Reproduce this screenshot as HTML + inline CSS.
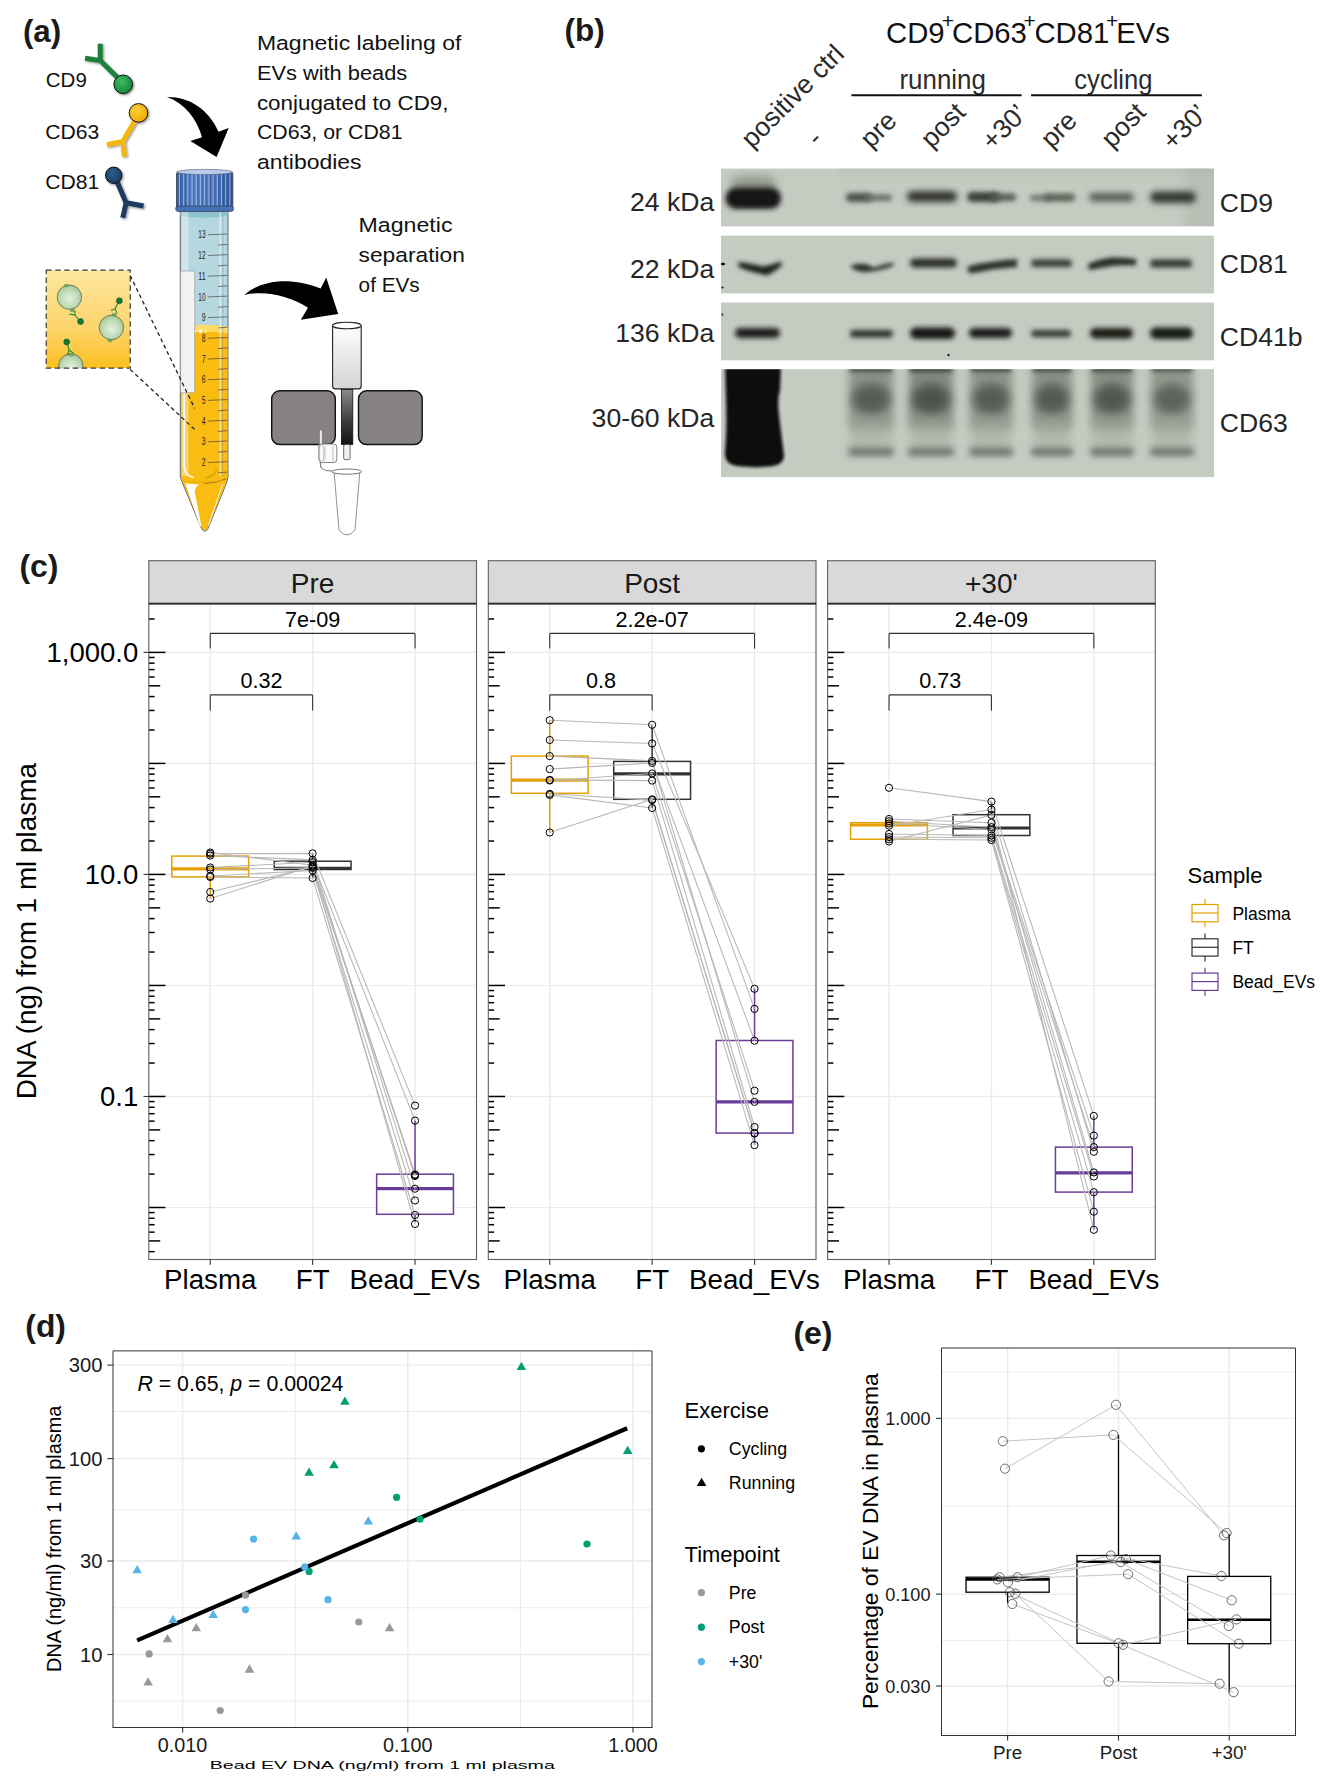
<!DOCTYPE html>
<html><head><meta charset="utf-8"><style>
html,body{margin:0;padding:0;background:#fff;}
svg{display:block;font-family:"Liberation Sans", sans-serif;}
</style></head><body>
<svg width="1328" height="1792" viewBox="0 0 1328 1792">
<rect width="1328" height="1792" fill="#fff"/>
<text x="22.90" y="41.60" font-size="31.3" text-anchor="start" fill="#1a1a1a" font-weight="bold" >(a)</text>
<defs>
<filter id="dsh" x="-30%" y="-30%" width="160%" height="160%"><feDropShadow dx="1.2" dy="1.2" stdDeviation="0.9" flood-color="#000" flood-opacity="0.45"/></filter>
<radialGradient id="gG" cx="0.4" cy="0.35" r="0.7"><stop offset="0" stop-color="#3dba5e"/><stop offset="1" stop-color="#14843a"/></radialGradient>
<radialGradient id="gY" cx="0.4" cy="0.35" r="0.7"><stop offset="0" stop-color="#fcd03a"/><stop offset="1" stop-color="#f0aa00"/></radialGradient>
<radialGradient id="gN" cx="0.4" cy="0.35" r="0.7"><stop offset="0" stop-color="#2c5d8c"/><stop offset="1" stop-color="#173a60"/></radialGradient>
<radialGradient id="gEV" cx="0.5" cy="0.55" r="0.6"><stop offset="0" stop-color="#e6f1e0"/><stop offset="0.55" stop-color="#c2dcb8"/><stop offset="0.85" stop-color="#a9cb9d"/><stop offset="1" stop-color="#6f8f68"/></radialGradient>
<linearGradient id="gInset" x1="0" y1="0" x2="0" y2="1"><stop offset="0" stop-color="#fde6a0"/><stop offset="0.6" stop-color="#fdd46a"/><stop offset="1" stop-color="#fbbf1e"/></linearGradient>
<linearGradient id="gCap" x1="0" y1="0" x2="1" y2="0"><stop offset="0" stop-color="#3a62a8"/><stop offset="0.3" stop-color="#5a86cc"/><stop offset="0.7" stop-color="#4a76bf"/><stop offset="1" stop-color="#2f5799"/></linearGradient>
<linearGradient id="gCol" x1="0" y1="0" x2="0" y2="1"><stop offset="0" stop-color="#ffffff"/><stop offset="1" stop-color="#d4d4d4"/></linearGradient>
<linearGradient id="gStem" x1="0" y1="0" x2="0" y2="1"><stop offset="0" stop-color="#8a8a8a"/><stop offset="0.6" stop-color="#3a3a3a"/><stop offset="1" stop-color="#111"/></linearGradient>
<pattern id="pMag" width="3" height="3" patternUnits="userSpaceOnUse"><rect width="3" height="3" fill="#8f8b8b"/><rect width="1.5" height="1.5" fill="#7d7979"/><rect x="1.5" y="1.5" width="1.5" height="1.5" fill="#7d7979"/></pattern>
<linearGradient id="gCone" x1="0" y1="0" x2="1" y2="0"><stop offset="0" stop-color="#f7b500"/><stop offset="0.35" stop-color="#fbd65a"/><stop offset="0.7" stop-color="#f9c21c"/><stop offset="1" stop-color="#f2b000"/></linearGradient>
<clipPath id="cInset"><rect x="46.25" y="270.2" width="84" height="98"/></clipPath>
</defs>
<text x="45.8" y="87.0" font-size="20" textLength="41" lengthAdjust="spacingAndGlyphs" fill="#111">CD9</text>
<text x="45.2" y="138.9" font-size="20" textLength="54" lengthAdjust="spacingAndGlyphs" fill="#111">CD63</text>
<text x="45.2" y="189.4" font-size="20" textLength="54" lengthAdjust="spacingAndGlyphs" fill="#111">CD81</text>
<g filter="url(#dsh)">
<polyline points="100.2,43.7 100.2,60.5" fill="none" stroke="#1b7f3a" stroke-width="5" stroke-linejoin="miter" stroke-linecap="butt"/>
<polyline points="85.1,58.2 100.2,60.5 119,79" fill="none" stroke="#1b7f3a" stroke-width="5" stroke-linejoin="miter" stroke-linecap="butt"/>
<circle cx="123.2" cy="84.3" r="9.3" fill="url(#gG)" stroke="#111" stroke-width="1"/>
</g>
<g filter="url(#dsh)">
<polyline points="134.4,121.5 122.8,141.4 107,144.7" fill="none" stroke="#f5b50e" stroke-width="5" stroke-linejoin="miter" stroke-linecap="butt"/>
<polyline points="122.8,141.4 124.4,156.5" fill="none" stroke="#f5b50e" stroke-width="5" stroke-linejoin="miter" stroke-linecap="butt"/>
<circle cx="138.5" cy="112.9" r="9.3" fill="url(#gY)" stroke="#111" stroke-width="1"/>
</g>
<g filter="url(#dsh)">
<polyline points="117.0,181.5 126.1,202.7 143.5,206" fill="none" stroke="#1c3a5e" stroke-width="5" stroke-linejoin="miter" stroke-linecap="butt"/>
<polyline points="126.1,202.7 122.8,217.8" fill="none" stroke="#1c3a5e" stroke-width="5" stroke-linejoin="miter" stroke-linecap="butt"/>
<circle cx="113.7" cy="175.3" r="8.2" fill="url(#gN)" stroke="#111" stroke-width="1"/>
</g>
<path d="M167,97 C188,96.5 208,108 218.5,131.8 L228.7,127.9 L216.6,156.9 L190.3,141.1 L202,137.3 C197,119 185,103.5 167,97 Z" fill="#000"/>
<text x="256.9" y="50.2" font-size="20.5" textLength="204.6" lengthAdjust="spacingAndGlyphs" fill="#111">Magnetic labeling of</text>
<text x="256.9" y="79.7" font-size="20.5" textLength="150.3" lengthAdjust="spacingAndGlyphs" fill="#111">EVs with beads</text>
<text x="256.9" y="109.5" font-size="20.5" textLength="191.6" lengthAdjust="spacingAndGlyphs" fill="#111">conjugated to CD9,</text>
<text x="256.9" y="139.3" font-size="20.5" textLength="145.6" lengthAdjust="spacingAndGlyphs" fill="#111">CD63, or CD81</text>
<text x="256.9" y="169.1" font-size="20.5" textLength="104.6" lengthAdjust="spacingAndGlyphs" fill="#111">antibodies</text>
<text x="358.6" y="231.5" font-size="20.5" textLength="93.9" lengthAdjust="spacingAndGlyphs" fill="#111">Magnetic</text>
<text x="358.6" y="261.7" font-size="20.5" textLength="106.2" lengthAdjust="spacingAndGlyphs" fill="#111">separation</text>
<text x="358.6" y="291.5" font-size="20.5" textLength="61.1" lengthAdjust="spacingAndGlyphs" fill="#111">of EVs</text>
<path d="M180.3,211 L228,211 L228,477 L226.5,483 L208,528.5 Q204.8,534 201.5,528.5 L182.5,483 L180.3,477 Z" fill="#b5d7df" stroke="#555" stroke-width="0.9"/>
<path d="M181,326.4 Q204,323.5 227.4,326.4 L227.4,477 L226,483 L207.6,528 Q204.8,532.8 202,528 L183,483 L181,477 Z" fill="#f9bd12"/>
<path d="M185.3,483.5 L199,484.5 Q195,487 194.8,492 L201.5,527 L200,526 Z" fill="#ffffff"/>
<path d="M222.5,484.5 L208.5,525.5" fill="none" stroke="#ffffff" stroke-width="1" opacity="0.9"/>
<path d="M204.5,483.5 Q216,483 226,479" fill="none" stroke="#6b5a20" stroke-width="0.8"/>
<path d="M182,481 Q205,484 226.5,480" fill="none" stroke="#e8ac00" stroke-width="1.2" opacity="0.8"/>
<path d="M181,326.4 Q204,323 227.4,326.4 L227.4,333 Q204,330 181,333 Z" fill="#fddc6a"/>
<circle cx="200.50" cy="331.30" r="1.8" fill="#fff" stroke="none" stroke-width="1" />
<circle cx="195.50" cy="331.50" r="0.9" fill="#fff" stroke="none" stroke-width="1" />
<circle cx="205.50" cy="331.50" r="0.9" fill="#fff" stroke="none" stroke-width="1" />
<circle cx="198.00" cy="330.50" r="0.6" fill="#fff" stroke="none" stroke-width="1" />
<path d="M180.6,211.5 L227.6,211.5 L227.6,216 Q204,219.5 180.6,216 Z" fill="#8cc3cf"/>
<rect x="181.5" y="212" width="7" height="264" fill="#ffffff" opacity="0.35"/>
<line x1="220.20" y1="212.00" x2="220.20" y2="476.00" stroke="#ffffff" stroke-width="1.0" opacity="0.8"/>
<line x1="223.00" y1="212.00" x2="223.00" y2="476.00" stroke="#7fa9b3" stroke-width="0.7" opacity="0.7"/>
<path d="M184.2,333 L184.2,466 Q184.5,476 194,477.5" fill="none" stroke="#fff" stroke-width="1.6" opacity="0.95"/>
<path d="M216.5,470 Q215,476.5 206,477.8" fill="none" stroke="#c48a00" stroke-width="1.4" opacity="0.6"/>
<path d="M180.6,271 L193,271 Q194.7,271 194.7,273 L194.7,391 Q194.7,392.8 193,392.8 L180.6,392.8 Z" fill="#f3f3f3" stroke="#9a9a9a" stroke-width="0.7"/>
<text x="205.5" y="238.4" font-size="10" text-anchor="end" fill="#222" textLength="7.2" lengthAdjust="spacingAndGlyphs">13</text>
<line x1="207.80" y1="234.80" x2="227.50" y2="234.00" stroke="#333" stroke-width="0.6" />
<line x1="218.00" y1="245.15" x2="227.50" y2="244.40" stroke="#333" stroke-width="0.6" />
<text x="205.5" y="259.1" font-size="10" text-anchor="end" fill="#222" textLength="7.2" lengthAdjust="spacingAndGlyphs">12</text>
<line x1="207.80" y1="255.50" x2="227.50" y2="254.70" stroke="#333" stroke-width="0.6" />
<line x1="218.00" y1="265.85" x2="227.50" y2="265.10" stroke="#333" stroke-width="0.6" />
<text x="205.5" y="279.8" font-size="10" text-anchor="end" fill="#222" textLength="7.2" lengthAdjust="spacingAndGlyphs">11</text>
<line x1="207.80" y1="276.20" x2="227.50" y2="275.40" stroke="#333" stroke-width="0.6" />
<line x1="218.00" y1="286.55" x2="227.50" y2="285.80" stroke="#333" stroke-width="0.6" />
<text x="205.5" y="300.5" font-size="10" text-anchor="end" fill="#222" textLength="7.2" lengthAdjust="spacingAndGlyphs">10</text>
<line x1="207.80" y1="296.90" x2="227.50" y2="296.10" stroke="#333" stroke-width="0.6" />
<line x1="218.00" y1="307.25" x2="227.50" y2="306.50" stroke="#333" stroke-width="0.6" />
<text x="205.5" y="321.2" font-size="10" text-anchor="end" fill="#222" textLength="3.8" lengthAdjust="spacingAndGlyphs">9</text>
<line x1="207.80" y1="317.60" x2="227.50" y2="316.80" stroke="#333" stroke-width="0.6" />
<line x1="218.00" y1="327.95" x2="227.50" y2="327.20" stroke="#333" stroke-width="0.6" />
<text x="205.5" y="341.9" font-size="10" text-anchor="end" fill="#222" textLength="3.8" lengthAdjust="spacingAndGlyphs">8</text>
<line x1="207.80" y1="338.30" x2="227.50" y2="337.50" stroke="#333" stroke-width="0.6" />
<line x1="218.00" y1="348.65" x2="227.50" y2="347.90" stroke="#333" stroke-width="0.6" />
<text x="205.5" y="362.6" font-size="10" text-anchor="end" fill="#222" textLength="3.8" lengthAdjust="spacingAndGlyphs">7</text>
<line x1="207.80" y1="359.00" x2="227.50" y2="358.20" stroke="#333" stroke-width="0.6" />
<line x1="218.00" y1="369.35" x2="227.50" y2="368.60" stroke="#333" stroke-width="0.6" />
<text x="205.5" y="383.3" font-size="10" text-anchor="end" fill="#222" textLength="3.8" lengthAdjust="spacingAndGlyphs">6</text>
<line x1="207.80" y1="379.70" x2="227.50" y2="378.90" stroke="#333" stroke-width="0.6" />
<line x1="218.00" y1="390.05" x2="227.50" y2="389.30" stroke="#333" stroke-width="0.6" />
<text x="205.5" y="404.0" font-size="10" text-anchor="end" fill="#222" textLength="3.8" lengthAdjust="spacingAndGlyphs">5</text>
<line x1="207.80" y1="400.40" x2="227.50" y2="399.60" stroke="#333" stroke-width="0.6" />
<line x1="218.00" y1="410.75" x2="227.50" y2="410.00" stroke="#333" stroke-width="0.6" />
<text x="205.5" y="424.7" font-size="10" text-anchor="end" fill="#222" textLength="3.8" lengthAdjust="spacingAndGlyphs">4</text>
<line x1="207.80" y1="421.10" x2="227.50" y2="420.30" stroke="#333" stroke-width="0.6" />
<line x1="218.00" y1="431.45" x2="227.50" y2="430.70" stroke="#333" stroke-width="0.6" />
<text x="205.5" y="445.4" font-size="10" text-anchor="end" fill="#222" textLength="3.8" lengthAdjust="spacingAndGlyphs">3</text>
<line x1="207.80" y1="441.80" x2="227.50" y2="441.00" stroke="#333" stroke-width="0.6" />
<line x1="218.00" y1="452.15" x2="227.50" y2="451.40" stroke="#333" stroke-width="0.6" />
<text x="205.5" y="466.1" font-size="10" text-anchor="end" fill="#222" textLength="3.8" lengthAdjust="spacingAndGlyphs">2</text>
<line x1="207.80" y1="462.50" x2="227.50" y2="461.70" stroke="#333" stroke-width="0.6" />
<line x1="218.00" y1="472.85" x2="227.50" y2="472.10" stroke="#333" stroke-width="0.6" />
<rect x="176.5" y="172" width="56.3" height="38" rx="2" fill="url(#gCap)" stroke="#334" stroke-width="0.8"/>
<line x1="179.50" y1="174.00" x2="179.50" y2="209.00" stroke="#a9c2e8" stroke-width="0.8" />
<line x1="181.10" y1="174.00" x2="181.10" y2="209.00" stroke="#27467f" stroke-width="0.5" />
<line x1="183.70" y1="174.00" x2="183.70" y2="209.00" stroke="#a9c2e8" stroke-width="0.8" />
<line x1="185.30" y1="174.00" x2="185.30" y2="209.00" stroke="#27467f" stroke-width="0.5" />
<line x1="187.90" y1="174.00" x2="187.90" y2="209.00" stroke="#a9c2e8" stroke-width="0.8" />
<line x1="189.50" y1="174.00" x2="189.50" y2="209.00" stroke="#27467f" stroke-width="0.5" />
<line x1="192.10" y1="174.00" x2="192.10" y2="209.00" stroke="#a9c2e8" stroke-width="0.8" />
<line x1="193.70" y1="174.00" x2="193.70" y2="209.00" stroke="#27467f" stroke-width="0.5" />
<line x1="196.30" y1="174.00" x2="196.30" y2="209.00" stroke="#a9c2e8" stroke-width="0.8" />
<line x1="197.90" y1="174.00" x2="197.90" y2="209.00" stroke="#27467f" stroke-width="0.5" />
<line x1="200.50" y1="174.00" x2="200.50" y2="209.00" stroke="#a9c2e8" stroke-width="0.8" />
<line x1="202.10" y1="174.00" x2="202.10" y2="209.00" stroke="#27467f" stroke-width="0.5" />
<line x1="204.70" y1="174.00" x2="204.70" y2="209.00" stroke="#a9c2e8" stroke-width="0.8" />
<line x1="206.30" y1="174.00" x2="206.30" y2="209.00" stroke="#27467f" stroke-width="0.5" />
<line x1="208.90" y1="174.00" x2="208.90" y2="209.00" stroke="#a9c2e8" stroke-width="0.8" />
<line x1="210.50" y1="174.00" x2="210.50" y2="209.00" stroke="#27467f" stroke-width="0.5" />
<line x1="213.10" y1="174.00" x2="213.10" y2="209.00" stroke="#a9c2e8" stroke-width="0.8" />
<line x1="214.70" y1="174.00" x2="214.70" y2="209.00" stroke="#27467f" stroke-width="0.5" />
<line x1="217.30" y1="174.00" x2="217.30" y2="209.00" stroke="#a9c2e8" stroke-width="0.8" />
<line x1="218.90" y1="174.00" x2="218.90" y2="209.00" stroke="#27467f" stroke-width="0.5" />
<line x1="221.50" y1="174.00" x2="221.50" y2="209.00" stroke="#a9c2e8" stroke-width="0.8" />
<line x1="223.10" y1="174.00" x2="223.10" y2="209.00" stroke="#27467f" stroke-width="0.5" />
<line x1="225.70" y1="174.00" x2="225.70" y2="209.00" stroke="#a9c2e8" stroke-width="0.8" />
<line x1="227.30" y1="174.00" x2="227.30" y2="209.00" stroke="#27467f" stroke-width="0.5" />
<line x1="229.90" y1="174.00" x2="229.90" y2="209.00" stroke="#a9c2e8" stroke-width="0.8" />
<line x1="231.50" y1="174.00" x2="231.50" y2="209.00" stroke="#27467f" stroke-width="0.5" />
<ellipse cx="204.6" cy="172" rx="28" ry="2.6" fill="#b8cdee" stroke="#556" stroke-width="0.6"/>
<rect x="175.6" y="206" width="58" height="5.5" rx="2.7" fill="#4470b5" stroke="#334" stroke-width="0.6"/>
<g clip-path="url(#cInset)">
<rect x="46.25" y="270.20" width="84.00" height="98.00" fill="url(#gInset)" stroke="none" stroke-width="1" />
<circle cx="69.40" cy="297.20" r="12.2" fill="url(#gEV)" stroke="#4d5a4a" stroke-width="0.7" />
<circle cx="111.40" cy="327.50" r="12.2" fill="url(#gEV)" stroke="#4d5a4a" stroke-width="0.7" />
<circle cx="70.80" cy="366.00" r="12.2" fill="url(#gEV)" stroke="#4d5a4a" stroke-width="0.7" />
<polyline points="69.4,314.1 74.8,314.8 75.2,310.7" stroke="#1f8a3c" stroke-width="1.1" fill="none"/>
<polyline points="74.8,314.8 80.3,321.5" stroke="#1f8a3c" stroke-width="1.1" fill="none"/>
<polyline points="111.1,310.4 115.1,308.7 117.2,313.4" stroke="#1f8a3c" stroke-width="1.1" fill="none"/>
<polyline points="115.1,308.7 119.2,300.8" stroke="#1f8a3c" stroke-width="1.1" fill="none"/>
<polyline points="66.9,342 69.1,350 67.4,355.4" stroke="#1f8a3c" stroke-width="1.1" fill="none"/>
<polyline points="69.1,350 73.8,353.4" stroke="#1f8a3c" stroke-width="1.1" fill="none"/>
<circle cx="80.60" cy="321.60" r="3" fill="#127a33" stroke="#0b4a20" stroke-width="0.5" />
<circle cx="119.40" cy="300.80" r="3" fill="#127a33" stroke="#0b4a20" stroke-width="0.5" />
<circle cx="66.70" cy="341.90" r="3" fill="#127a33" stroke="#0b4a20" stroke-width="0.5" />
<ellipse cx="66.5" cy="285.5" rx="2.3" ry="1.3" fill="#7cb36c" stroke="#2f6a2a" stroke-width="0.4"/>
<ellipse cx="72.5" cy="310.4" rx="2.3" ry="1.3" fill="#7cb36c" stroke="#2f6a2a" stroke-width="0.4"/>
<ellipse cx="114.2" cy="314.5" rx="2.3" ry="1.3" fill="#7cb36c" stroke="#2f6a2a" stroke-width="0.4"/>
<ellipse cx="110" cy="340.5" rx="2.3" ry="1.3" fill="#7cb36c" stroke="#2f6a2a" stroke-width="0.4"/>
<ellipse cx="71" cy="354.8" rx="2.3" ry="1.3" fill="#7cb36c" stroke="#2f6a2a" stroke-width="0.4"/>
</g>
<rect x="46.25" y="270.2" width="84" height="97.9" fill="none" stroke="#3d3a30" stroke-width="1.2" stroke-dasharray="5.5,3.5"/>
<line x1="130.20" y1="275.60" x2="194.70" y2="408.40" stroke="#222" stroke-width="1.3" stroke-dasharray="4,3"/>
<line x1="130.20" y1="369.40" x2="196.30" y2="431.00" stroke="#222" stroke-width="1.3" stroke-dasharray="4,3"/>
<path d="M244.3,295 C258,282 287,275 320.7,288.6 L326.2,277.5 L338.2,314.1 L300.8,319.7 L308,307.7 C290,296 265,290 244.3,295 Z" fill="#000"/>
<rect x="271.7" y="390.8" width="63.6" height="53.7" rx="8" fill="url(#pMag)" stroke="#111" stroke-width="1.4"/>
<rect x="358.5" y="390.8" width="63.7" height="53.7" rx="8" fill="url(#pMag)" stroke="#111" stroke-width="1.4"/>
<rect x="332.6" y="324" width="28.6" height="64.9" rx="3" fill="url(#gCol)" stroke="#222" stroke-width="1.1"/>
<ellipse cx="346.9" cy="325.5" rx="14.3" ry="3.3" fill="#fff" stroke="#222" stroke-width="1.1"/>
<rect x="341.4" y="389.5" width="11.4" height="55" fill="url(#gStem)" stroke="#111" stroke-width="0.8"/>
<rect x="343.7" y="444.5" width="6.4" height="15.1" rx="1.5" fill="#f0f0f0" stroke="#444" stroke-width="0.8"/>
<rect x="319.6" y="430" width="2.6" height="18" rx="1" fill="#f4f4f4" stroke="#777" stroke-width="0.7"/>
<path d="M320.5,458 L320.5,466 Q321,471 333,471" fill="none" stroke="#777" stroke-width="1.1"/>
<rect x="318.8" y="444" width="18" height="18.5" rx="3" fill="#fafafa" stroke="#777" stroke-width="0.9"/>
<ellipse cx="321.5" cy="453" rx="2.5" ry="9" fill="none" stroke="#999" stroke-width="0.7"/>
<line x1="325.00" y1="446.00" x2="325.00" y2="461.00" stroke="#bbb" stroke-width="0.8" />
<line x1="333.00" y1="446.00" x2="333.00" y2="461.00" stroke="#aaa" stroke-width="0.8" />
<path d="M334.2,473.5 L359.7,473.5 L355,530 Q347,540 339,530 Z" fill="#fff" stroke="#888" stroke-width="0.9"/>
<ellipse cx="346.8" cy="471.6" rx="15" ry="2.6" fill="#fff" stroke="#777" stroke-width="1"/>
<text x="564.60" y="41.20" font-size="31.5" text-anchor="start" fill="#1a1a1a" font-weight="bold" >(b)</text>
<defs><filter id="f15" x="-50%" y="-150%" width="200%" height="400%"><feGaussianBlur stdDeviation="1.5"/></filter><filter id="f16" x="-50%" y="-150%" width="200%" height="400%"><feGaussianBlur stdDeviation="1.6"/></filter><filter id="f18" x="-50%" y="-150%" width="200%" height="400%"><feGaussianBlur stdDeviation="1.8"/></filter><filter id="f20" x="-50%" y="-150%" width="200%" height="400%"><feGaussianBlur stdDeviation="2.0"/></filter><filter id="f22" x="-50%" y="-150%" width="200%" height="400%"><feGaussianBlur stdDeviation="2.2"/></filter><filter id="f24" x="-50%" y="-150%" width="200%" height="400%"><feGaussianBlur stdDeviation="2.4"/></filter><filter id="f26" x="-50%" y="-150%" width="200%" height="400%"><feGaussianBlur stdDeviation="2.6"/></filter><filter id="f28" x="-50%" y="-150%" width="200%" height="400%"><feGaussianBlur stdDeviation="2.8"/></filter><filter id="f30" x="-50%" y="-150%" width="200%" height="400%"><feGaussianBlur stdDeviation="3.0"/></filter><filter id="f35" x="-50%" y="-150%" width="200%" height="400%"><feGaussianBlur stdDeviation="3.5"/></filter><filter id="f40" x="-50%" y="-150%" width="200%" height="400%"><feGaussianBlur stdDeviation="4.0"/></filter><filter id="f50" x="-50%" y="-150%" width="200%" height="400%"><feGaussianBlur stdDeviation="5.0"/></filter><clipPath id="cs1"><rect x="721" y="168.6" width="493" height="57.7"/></clipPath><clipPath id="cs2"><rect x="721" y="235.6" width="493" height="57.8"/></clipPath><clipPath id="cs3"><rect x="721" y="302.5" width="493" height="57.8"/></clipPath><clipPath id="cs4"><rect x="721" y="369.2" width="493" height="107.9"/></clipPath></defs>
<rect x="721.00" y="168.60" width="493.00" height="57.70" fill="#c4cbc1" stroke="none" stroke-width="1" />
<rect x="721.00" y="235.60" width="493.00" height="57.80" fill="#c4cbc1" stroke="none" stroke-width="1" />
<rect x="721.00" y="302.50" width="493.00" height="57.80" fill="#c4cbc1" stroke="none" stroke-width="1" />
<rect x="721.00" y="369.20" width="493.00" height="107.90" fill="#c4cbc1" stroke="none" stroke-width="1" />
<g clip-path="url(#cs1)"><rect x="1185" y="160" width="40" height="75" fill="#a3aaa0" opacity="0.35" filter="url(#f50)"/><rect x="840" y="158" width="370" height="14" fill="#a9b0a5" opacity="0.45" filter="url(#f40)"/></g>
<g clip-path="url(#cs1)"><rect x="731.0" y="176.0" width="45.0" height="16.0" rx="8.0" fill="#7d8479" fill-opacity="0.7" filter="url(#f40)"/></g>
<g clip-path="url(#cs1)"><rect x="725.5" y="187.5" width="55.5" height="21.5" rx="10.8" fill="#161815" fill-opacity="1" filter="url(#f24)"/></g>
<g clip-path="url(#cs1)"><rect x="846.0" y="193.0" width="26.0" height="9.0" rx="4.5" fill="#4c514a" fill-opacity="1" filter="url(#f26)"/></g>
<g clip-path="url(#cs1)"><rect x="866.0" y="194.5" width="26.0" height="6.5" rx="3.2" fill="#6a7067" fill-opacity="1" filter="url(#f26)"/></g>
<g clip-path="url(#cs1)"><rect x="907.0" y="191.0" width="50.0" height="11.0" rx="5.5" fill="#30342f" fill-opacity="1" filter="url(#f30)"/></g>
<g clip-path="url(#cs1)"><rect x="967.0" y="192.0" width="33.0" height="10.0" rx="5.0" fill="#3b4039" fill-opacity="1" filter="url(#f28)"/></g>
<g clip-path="url(#cs1)"><rect x="990.0" y="193.5" width="26.0" height="7.5" rx="3.8" fill="#555b52" fill-opacity="1" filter="url(#f28)"/></g>
<g clip-path="url(#cs1)"><rect x="1030.0" y="195.0" width="20.0" height="6.0" rx="3.0" fill="#6f756c" fill-opacity="1" filter="url(#f26)"/></g>
<g clip-path="url(#cs1)"><rect x="1044.0" y="193.5" width="31.0" height="8.0" rx="4.0" fill="#5c6259" fill-opacity="1" filter="url(#f26)"/></g>
<g clip-path="url(#cs1)"><rect x="1089.0" y="193.0" width="45.0" height="8.5" rx="4.2" fill="#555b52" fill-opacity="1" filter="url(#f30)"/></g>
<g clip-path="url(#cs1)"><rect x="1150.0" y="191.5" width="46.0" height="11.5" rx="5.8" fill="#333732" fill-opacity="1" filter="url(#f30)"/></g>
<g clip-path="url(#cs2)"><path d="M738,262 Q752,263.5 762,266.5 Q772,265 781,261.5 L782,265 Q776,271 767,275.5 Q752,272.5 739,267.5 Z" fill="#1e201d" fill-opacity="1" filter="url(#f20)"/></g>
<g clip-path="url(#cs2)"><path d="M850,266 Q858,262.5 868,264.5 Q872,268 876,267 Q885,263 894,262.5 L893,266 Q884,269.5 875,271 Q870,271.5 866,272 Q855,272 850,266 Z" fill="#2b2f2a" fill-opacity="1" filter="url(#f20)"/></g>
<g clip-path="url(#cs2)"><rect x="910.0" y="258.5" width="47.0" height="9.0" rx="4.5" fill="#2a2e29" fill-opacity="1" filter="url(#f26)"/></g>
<g clip-path="url(#cs2)"><path d="M967,267 Q975,263.5 990,262 Q1005,259.5 1017,259 L1017,267 Q1005,268 992,269.5 Q978,273 969,273.5 Z" fill="#2f332e" fill-opacity="1" filter="url(#f22)"/></g>
<g clip-path="url(#cs2)"><rect x="1031.0" y="259.5" width="41.0" height="7.5" rx="3.8" fill="#363a34" fill-opacity="1" filter="url(#f26)"/></g>
<g clip-path="url(#cs2)"><path d="M1088,264 Q1100,258.5 1112,257.5 Q1125,257 1136,259 L1136,265.5 Q1124,265 1112,266 Q1098,268.5 1089,270 Z" fill="#2a2e29" fill-opacity="1" filter="url(#f22)"/></g>
<g clip-path="url(#cs2)"><rect x="1150.0" y="259.5" width="42.0" height="8.0" rx="4.0" fill="#323631" fill-opacity="1" filter="url(#f26)"/></g>
<g clip-path="url(#cs3)"><rect x="735.0" y="328.0" width="45.0" height="10.0" rx="5.0" fill="#1c1e1b" fill-opacity="1" filter="url(#f24)"/></g>
<g clip-path="url(#cs3)"><rect x="850.0" y="330.0" width="43.0" height="7.5" rx="3.8" fill="#2c302b" fill-opacity="1" filter="url(#f24)"/></g>
<g clip-path="url(#cs3)"><rect x="910.0" y="327.5" width="45.0" height="11.5" rx="5.8" fill="#161815" fill-opacity="1" filter="url(#f24)"/></g>
<g clip-path="url(#cs3)"><rect x="969.0" y="328.0" width="43.0" height="10.0" rx="5.0" fill="#1c1e1b" fill-opacity="1" filter="url(#f24)"/></g>
<g clip-path="url(#cs3)"><rect x="1031.0" y="330.0" width="40.0" height="7.0" rx="3.5" fill="#333732" fill-opacity="1" filter="url(#f24)"/></g>
<g clip-path="url(#cs3)"><rect x="1090.0" y="328.0" width="43.0" height="10.5" rx="5.2" fill="#1a1c19" fill-opacity="1" filter="url(#f24)"/></g>
<g clip-path="url(#cs3)"><rect x="1150.0" y="327.5" width="43.0" height="11.5" rx="5.8" fill="#181a17" fill-opacity="1" filter="url(#f24)"/></g>
<g clip-path="url(#cs4)">
<path d="M725,366 L781,366 L780,390 Q777,400 779,415 Q782,440 784,455 Q784,466 768,466.5 Q752,468 737,466 Q724,464 725,452 Q727,430 726,400 Z" fill="#0d0d0c" filter="url(#f15)"/>
<rect x="849" y="360" width="44" height="70" rx="8" fill="#7e857b" opacity="0.8" filter="url(#f40)"/>
<rect x="850" y="364" width="42" height="8" fill="#40453e" opacity="0.8" filter="url(#f22)"/>
<ellipse cx="871.0" cy="399" rx="19.0" ry="15" fill="#4a4f47" opacity="0.8" filter="url(#f50)"/>
<rect x="850" y="418" width="42" height="34" fill="#a3aa9e" opacity="0.55" filter="url(#f40)"/>
<rect x="848" y="448" width="46" height="8" rx="4" fill="#6a7067" opacity="0.95" filter="url(#f30)"/>
<rect x="909" y="360" width="44" height="70" rx="8" fill="#7e857b" opacity="0.92" filter="url(#f40)"/>
<rect x="910" y="364" width="42" height="8" fill="#40453e" opacity="0.92" filter="url(#f22)"/>
<ellipse cx="931.0" cy="399" rx="19.0" ry="15" fill="#4a4f47" opacity="0.92" filter="url(#f50)"/>
<rect x="910" y="418" width="42" height="34" fill="#a3aa9e" opacity="0.55" filter="url(#f40)"/>
<rect x="908" y="448" width="46" height="8" rx="4" fill="#6a7067" opacity="0.95" filter="url(#f30)"/>
<rect x="970" y="360" width="42" height="70" rx="8" fill="#7e857b" opacity="0.8" filter="url(#f40)"/>
<rect x="971" y="364" width="40" height="8" fill="#40453e" opacity="0.8" filter="url(#f22)"/>
<ellipse cx="991.0" cy="399" rx="18.0" ry="15" fill="#4a4f47" opacity="0.8" filter="url(#f50)"/>
<rect x="971" y="418" width="40" height="34" fill="#a3aa9e" opacity="0.55" filter="url(#f40)"/>
<rect x="969" y="448" width="44" height="8" rx="4" fill="#6a7067" opacity="0.95" filter="url(#f30)"/>
<rect x="1032" y="360" width="40" height="70" rx="8" fill="#7e857b" opacity="0.82" filter="url(#f40)"/>
<rect x="1033" y="364" width="38" height="8" fill="#40453e" opacity="0.82" filter="url(#f22)"/>
<ellipse cx="1052.0" cy="399" rx="17.0" ry="15" fill="#4a4f47" opacity="0.82" filter="url(#f50)"/>
<rect x="1033" y="418" width="38" height="34" fill="#a3aa9e" opacity="0.55" filter="url(#f40)"/>
<rect x="1031" y="448" width="42" height="8" rx="4" fill="#6a7067" opacity="0.95" filter="url(#f30)"/>
<rect x="1091" y="360" width="42" height="70" rx="8" fill="#7e857b" opacity="0.85" filter="url(#f40)"/>
<rect x="1092" y="364" width="40" height="8" fill="#40453e" opacity="0.85" filter="url(#f22)"/>
<ellipse cx="1112.0" cy="399" rx="18.0" ry="15" fill="#4a4f47" opacity="0.85" filter="url(#f50)"/>
<rect x="1092" y="418" width="40" height="34" fill="#a3aa9e" opacity="0.55" filter="url(#f40)"/>
<rect x="1090" y="448" width="44" height="8" rx="4" fill="#6a7067" opacity="0.95" filter="url(#f30)"/>
<rect x="1151" y="360" width="42" height="70" rx="8" fill="#7e857b" opacity="0.72" filter="url(#f40)"/>
<rect x="1152" y="364" width="40" height="8" fill="#40453e" opacity="0.72" filter="url(#f22)"/>
<ellipse cx="1172.0" cy="399" rx="18.0" ry="15" fill="#4a4f47" opacity="0.72" filter="url(#f50)"/>
<rect x="1152" y="418" width="40" height="34" fill="#a3aa9e" opacity="0.55" filter="url(#f40)"/>
<rect x="1150" y="448" width="44" height="8" rx="4" fill="#6a7067" opacity="0.95" filter="url(#f30)"/>
</g>
<ellipse cx="723" cy="264" rx="2.2" ry="1.3" fill="#111"/>
<ellipse cx="722.5" cy="287.5" rx="1.2" ry="1" fill="#222"/>
<ellipse cx="722.5" cy="314.5" rx="0.8" ry="1.6" fill="#333"/>
<circle cx="948.5" cy="355" r="1.2" fill="#222"/>
<text x="714.30" y="210.60" font-size="26.6" text-anchor="end" fill="#262626" >24 kDa</text>
<text x="714.30" y="277.80" font-size="26.6" text-anchor="end" fill="#262626" >22 kDa</text>
<text x="714.30" y="341.90" font-size="26.6" text-anchor="end" fill="#262626" >136 kDa</text>
<text x="714.30" y="427.00" font-size="26.6" text-anchor="end" fill="#262626" >30-60 kDa</text>
<text x="1219.80" y="211.90" font-size="26.6" text-anchor="start" fill="#262626" >CD9</text>
<text x="1219.80" y="273.10" font-size="26.6" text-anchor="start" fill="#262626" >CD81</text>
<text x="1219.80" y="345.80" font-size="26.6" text-anchor="start" fill="#262626" >CD41b</text>
<text x="1219.80" y="431.70" font-size="26.6" text-anchor="start" fill="#262626" >CD63</text>
<text x="886.00" y="43.40" font-size="29.3" text-anchor="start" fill="#111" >CD9</text>
<text x="941.80" y="28.00" font-size="21" text-anchor="start" fill="#111" >+</text>
<text x="952.00" y="43.40" font-size="29.3" text-anchor="start" fill="#111" >CD63</text>
<text x="1023.60" y="28.00" font-size="21" text-anchor="start" fill="#111" >+</text>
<text x="1034.40" y="43.40" font-size="29.3" text-anchor="start" fill="#111" >CD81</text>
<text x="1106.00" y="28.00" font-size="21" text-anchor="start" fill="#111" >+</text>
<text x="1116.20" y="43.40" font-size="29.3" text-anchor="start" fill="#111" >EVs</text>
<text x="899.5" y="89.3" font-size="27" textLength="86.4" lengthAdjust="spacingAndGlyphs" fill="#2b2b2b">running</text>
<text x="1074.3" y="89.3" font-size="27" textLength="78.2" lengthAdjust="spacingAndGlyphs" fill="#2b2b2b">cycling</text>
<line x1="851.40" y1="95.30" x2="1021.60" y2="95.30" stroke="#111" stroke-width="2.1" />
<line x1="1031.10" y1="95.30" x2="1201.90" y2="95.30" stroke="#111" stroke-width="2.1" />
<text transform="translate(752.0,149.3) rotate(-45)" font-size="26.5" fill="#2b2b2b">positive ctrl</text>
<text transform="translate(817.5,147.0) rotate(-45)" font-size="26.5" fill="#2b2b2b">-</text>
<text transform="translate(871.0,149.3) rotate(-45)" font-size="26.5" fill="#2b2b2b">pre</text>
<text transform="translate(931.5,149.3) rotate(-45)" font-size="26.5" fill="#2b2b2b">post</text>
<text transform="translate(992.5,151.3) rotate(-45)" font-size="26.5" fill="#2b2b2b">+30’</text>
<text transform="translate(1051.4,149.3) rotate(-45)" font-size="26.5" fill="#2b2b2b">pre</text>
<text transform="translate(1111.9,149.3) rotate(-45)" font-size="26.5" fill="#2b2b2b">post</text>
<text transform="translate(1172.9,151.3) rotate(-45)" font-size="26.5" fill="#2b2b2b">+30’</text>
<text x="19.40" y="577.30" font-size="32" text-anchor="start" fill="#1a1a1a" font-weight="bold" >(c)</text>
<rect x="148.80" y="603.60" width="327.70" height="655.90" fill="#fff" stroke="none" stroke-width="1" />
<line x1="148.80" y1="763.42" x2="476.50" y2="763.42" stroke="#ebebeb" stroke-width="1.1" />
<line x1="148.80" y1="985.46" x2="476.50" y2="985.46" stroke="#ebebeb" stroke-width="1.1" />
<line x1="148.80" y1="1207.50" x2="476.50" y2="1207.50" stroke="#ebebeb" stroke-width="1.1" />
<line x1="148.80" y1="652.40" x2="476.50" y2="652.40" stroke="#ebebeb" stroke-width="1.4" />
<line x1="148.80" y1="874.44" x2="476.50" y2="874.44" stroke="#ebebeb" stroke-width="1.4" />
<line x1="148.80" y1="1096.48" x2="476.50" y2="1096.48" stroke="#ebebeb" stroke-width="1.4" />
<line x1="210.24" y1="603.60" x2="210.24" y2="1259.50" stroke="#ebebeb" stroke-width="1.4" />
<line x1="312.64" y1="603.60" x2="312.64" y2="1259.50" stroke="#ebebeb" stroke-width="1.4" />
<line x1="415.04" y1="603.60" x2="415.04" y2="1259.50" stroke="#ebebeb" stroke-width="1.4" />
<line x1="210.24" y1="852.50" x2="210.24" y2="856.10" stroke="#E69F00" stroke-width="1.5" />
<line x1="210.24" y1="876.90" x2="210.24" y2="898.60" stroke="#E69F00" stroke-width="1.5" />
<rect x="171.84" y="856.10" width="76.80" height="20.80" fill="#fff" stroke="#E69F00" stroke-width="1.5" />
<line x1="171.84" y1="868.90" x2="248.64" y2="868.90" stroke="#E69F00" stroke-width="3.2" />
<line x1="312.64" y1="853.40" x2="312.64" y2="861.20" stroke="#333333" stroke-width="1.5" />
<line x1="312.64" y1="869.50" x2="312.64" y2="878.00" stroke="#333333" stroke-width="1.5" />
<rect x="274.24" y="861.20" width="76.80" height="8.30" fill="#fff" stroke="#333333" stroke-width="1.5" />
<line x1="274.24" y1="868.30" x2="351.04" y2="868.30" stroke="#333333" stroke-width="3.2" />
<line x1="415.04" y1="1120.60" x2="415.04" y2="1174.20" stroke="#6A3D9A" stroke-width="1.5" />
<line x1="415.04" y1="1214.30" x2="415.04" y2="1222.00" stroke="#6A3D9A" stroke-width="1.5" />
<rect x="376.64" y="1174.20" width="76.80" height="40.10" fill="#fff" stroke="#6A3D9A" stroke-width="1.5" />
<line x1="376.64" y1="1188.70" x2="453.44" y2="1188.70" stroke="#6A3D9A" stroke-width="3.2" />
<polyline points="210.24,852.50 312.64,865.20 415.04,1176.00" fill="none" stroke="#b8b8b8" stroke-width="1.1"/>
<polyline points="210.24,853.80 312.64,853.40 415.04,1105.60" fill="none" stroke="#b8b8b8" stroke-width="1.1"/>
<polyline points="210.24,855.50 312.64,859.90 415.04,1188.70" fill="none" stroke="#b8b8b8" stroke-width="1.1"/>
<polyline points="210.24,867.50 312.64,862.20 415.04,1120.60" fill="none" stroke="#b8b8b8" stroke-width="1.1"/>
<polyline points="210.24,869.50 312.64,867.90 415.04,1174.50" fill="none" stroke="#b8b8b8" stroke-width="1.1"/>
<polyline points="210.24,876.00 312.64,870.50 415.04,1200.50" fill="none" stroke="#b8b8b8" stroke-width="1.1"/>
<polyline points="210.24,877.00 312.64,878.00 415.04,1215.00" fill="none" stroke="#b8b8b8" stroke-width="1.1"/>
<polyline points="210.24,892.00 312.64,867.00 415.04,1224.00" fill="none" stroke="#b8b8b8" stroke-width="1.1"/>
<polyline points="210.24,898.60 312.64,866.00 415.04,1175.00" fill="none" stroke="#b8b8b8" stroke-width="1.1"/>
<circle cx="210.24" cy="852.50" r="3.6" fill="none" stroke="#000" stroke-width="1.0" />
<circle cx="210.24" cy="853.80" r="3.6" fill="none" stroke="#000" stroke-width="1.0" />
<circle cx="210.24" cy="855.50" r="3.6" fill="none" stroke="#000" stroke-width="1.0" />
<circle cx="210.24" cy="867.50" r="3.6" fill="none" stroke="#000" stroke-width="1.0" />
<circle cx="210.24" cy="869.50" r="3.6" fill="none" stroke="#000" stroke-width="1.0" />
<circle cx="210.24" cy="876.00" r="3.6" fill="none" stroke="#000" stroke-width="1.0" />
<circle cx="210.24" cy="877.00" r="3.6" fill="none" stroke="#000" stroke-width="1.0" />
<circle cx="210.24" cy="892.00" r="3.6" fill="none" stroke="#000" stroke-width="1.0" />
<circle cx="210.24" cy="898.60" r="3.6" fill="none" stroke="#000" stroke-width="1.0" />
<circle cx="312.64" cy="865.20" r="3.6" fill="none" stroke="#000" stroke-width="1.0" />
<circle cx="312.64" cy="853.40" r="3.6" fill="none" stroke="#000" stroke-width="1.0" />
<circle cx="312.64" cy="859.90" r="3.6" fill="none" stroke="#000" stroke-width="1.0" />
<circle cx="312.64" cy="862.20" r="3.6" fill="none" stroke="#000" stroke-width="1.0" />
<circle cx="312.64" cy="867.90" r="3.6" fill="none" stroke="#000" stroke-width="1.0" />
<circle cx="312.64" cy="870.50" r="3.6" fill="none" stroke="#000" stroke-width="1.0" />
<circle cx="312.64" cy="878.00" r="3.6" fill="none" stroke="#000" stroke-width="1.0" />
<circle cx="312.64" cy="867.00" r="3.6" fill="none" stroke="#000" stroke-width="1.0" />
<circle cx="312.64" cy="866.00" r="3.6" fill="none" stroke="#000" stroke-width="1.0" />
<circle cx="415.04" cy="1176.00" r="3.6" fill="none" stroke="#000" stroke-width="1.0" />
<circle cx="415.04" cy="1105.60" r="3.6" fill="none" stroke="#000" stroke-width="1.0" />
<circle cx="415.04" cy="1188.70" r="3.6" fill="none" stroke="#000" stroke-width="1.0" />
<circle cx="415.04" cy="1120.60" r="3.6" fill="none" stroke="#000" stroke-width="1.0" />
<circle cx="415.04" cy="1174.50" r="3.6" fill="none" stroke="#000" stroke-width="1.0" />
<circle cx="415.04" cy="1200.50" r="3.6" fill="none" stroke="#000" stroke-width="1.0" />
<circle cx="415.04" cy="1215.00" r="3.6" fill="none" stroke="#000" stroke-width="1.0" />
<circle cx="415.04" cy="1224.00" r="3.6" fill="none" stroke="#000" stroke-width="1.0" />
<circle cx="415.04" cy="1175.00" r="3.6" fill="none" stroke="#000" stroke-width="1.0" />
<line x1="148.80" y1="1251.68" x2="154.60" y2="1251.68" stroke="#000" stroke-width="1.5" />
<line x1="148.80" y1="1240.92" x2="160.20" y2="1240.92" stroke="#000" stroke-width="1.5" />
<line x1="148.80" y1="1232.13" x2="154.60" y2="1232.13" stroke="#000" stroke-width="1.5" />
<line x1="148.80" y1="1224.70" x2="154.60" y2="1224.70" stroke="#000" stroke-width="1.5" />
<line x1="148.80" y1="1218.26" x2="154.60" y2="1218.26" stroke="#000" stroke-width="1.5" />
<line x1="148.80" y1="1212.58" x2="154.60" y2="1212.58" stroke="#000" stroke-width="1.5" />
<line x1="148.80" y1="1207.50" x2="165.50" y2="1207.50" stroke="#000" stroke-width="1.5" />
<line x1="148.80" y1="1174.08" x2="154.60" y2="1174.08" stroke="#000" stroke-width="1.5" />
<line x1="148.80" y1="1154.53" x2="154.60" y2="1154.53" stroke="#000" stroke-width="1.5" />
<line x1="148.80" y1="1140.66" x2="154.60" y2="1140.66" stroke="#000" stroke-width="1.5" />
<line x1="148.80" y1="1129.90" x2="160.20" y2="1129.90" stroke="#000" stroke-width="1.5" />
<line x1="148.80" y1="1121.11" x2="154.60" y2="1121.11" stroke="#000" stroke-width="1.5" />
<line x1="148.80" y1="1113.68" x2="154.60" y2="1113.68" stroke="#000" stroke-width="1.5" />
<line x1="148.80" y1="1107.24" x2="154.60" y2="1107.24" stroke="#000" stroke-width="1.5" />
<line x1="148.80" y1="1101.56" x2="154.60" y2="1101.56" stroke="#000" stroke-width="1.5" />
<line x1="148.80" y1="1096.48" x2="165.50" y2="1096.48" stroke="#000" stroke-width="1.5" />
<line x1="148.80" y1="1063.06" x2="154.60" y2="1063.06" stroke="#000" stroke-width="1.5" />
<line x1="148.80" y1="1043.51" x2="154.60" y2="1043.51" stroke="#000" stroke-width="1.5" />
<line x1="148.80" y1="1029.64" x2="154.60" y2="1029.64" stroke="#000" stroke-width="1.5" />
<line x1="148.80" y1="1018.88" x2="160.20" y2="1018.88" stroke="#000" stroke-width="1.5" />
<line x1="148.80" y1="1010.09" x2="154.60" y2="1010.09" stroke="#000" stroke-width="1.5" />
<line x1="148.80" y1="1002.66" x2="154.60" y2="1002.66" stroke="#000" stroke-width="1.5" />
<line x1="148.80" y1="996.22" x2="154.60" y2="996.22" stroke="#000" stroke-width="1.5" />
<line x1="148.80" y1="990.54" x2="154.60" y2="990.54" stroke="#000" stroke-width="1.5" />
<line x1="148.80" y1="985.46" x2="165.50" y2="985.46" stroke="#000" stroke-width="1.5" />
<line x1="148.80" y1="952.04" x2="154.60" y2="952.04" stroke="#000" stroke-width="1.5" />
<line x1="148.80" y1="932.49" x2="154.60" y2="932.49" stroke="#000" stroke-width="1.5" />
<line x1="148.80" y1="918.62" x2="154.60" y2="918.62" stroke="#000" stroke-width="1.5" />
<line x1="148.80" y1="907.86" x2="160.20" y2="907.86" stroke="#000" stroke-width="1.5" />
<line x1="148.80" y1="899.07" x2="154.60" y2="899.07" stroke="#000" stroke-width="1.5" />
<line x1="148.80" y1="891.64" x2="154.60" y2="891.64" stroke="#000" stroke-width="1.5" />
<line x1="148.80" y1="885.20" x2="154.60" y2="885.20" stroke="#000" stroke-width="1.5" />
<line x1="148.80" y1="879.52" x2="154.60" y2="879.52" stroke="#000" stroke-width="1.5" />
<line x1="148.80" y1="874.44" x2="165.50" y2="874.44" stroke="#000" stroke-width="1.5" />
<line x1="148.80" y1="841.02" x2="154.60" y2="841.02" stroke="#000" stroke-width="1.5" />
<line x1="148.80" y1="821.47" x2="154.60" y2="821.47" stroke="#000" stroke-width="1.5" />
<line x1="148.80" y1="807.60" x2="154.60" y2="807.60" stroke="#000" stroke-width="1.5" />
<line x1="148.80" y1="796.84" x2="160.20" y2="796.84" stroke="#000" stroke-width="1.5" />
<line x1="148.80" y1="788.05" x2="154.60" y2="788.05" stroke="#000" stroke-width="1.5" />
<line x1="148.80" y1="780.62" x2="154.60" y2="780.62" stroke="#000" stroke-width="1.5" />
<line x1="148.80" y1="774.18" x2="154.60" y2="774.18" stroke="#000" stroke-width="1.5" />
<line x1="148.80" y1="768.50" x2="154.60" y2="768.50" stroke="#000" stroke-width="1.5" />
<line x1="148.80" y1="763.42" x2="165.50" y2="763.42" stroke="#000" stroke-width="1.5" />
<line x1="148.80" y1="730.00" x2="154.60" y2="730.00" stroke="#000" stroke-width="1.5" />
<line x1="148.80" y1="710.45" x2="154.60" y2="710.45" stroke="#000" stroke-width="1.5" />
<line x1="148.80" y1="696.58" x2="154.60" y2="696.58" stroke="#000" stroke-width="1.5" />
<line x1="148.80" y1="685.82" x2="160.20" y2="685.82" stroke="#000" stroke-width="1.5" />
<line x1="148.80" y1="677.03" x2="154.60" y2="677.03" stroke="#000" stroke-width="1.5" />
<line x1="148.80" y1="669.60" x2="154.60" y2="669.60" stroke="#000" stroke-width="1.5" />
<line x1="148.80" y1="663.16" x2="154.60" y2="663.16" stroke="#000" stroke-width="1.5" />
<line x1="148.80" y1="657.48" x2="154.60" y2="657.48" stroke="#000" stroke-width="1.5" />
<line x1="148.80" y1="652.40" x2="165.50" y2="652.40" stroke="#000" stroke-width="1.5" />
<line x1="148.80" y1="618.98" x2="154.60" y2="618.98" stroke="#000" stroke-width="1.5" />
<line x1="210.24" y1="648.60" x2="210.24" y2="633.40" stroke="#333333" stroke-width="1.1" />
<line x1="210.24" y1="633.40" x2="415.04" y2="633.40" stroke="#333333" stroke-width="1.1" />
<line x1="415.04" y1="633.40" x2="415.04" y2="648.60" stroke="#333333" stroke-width="1.1" />
<text x="312.64" y="626.90" font-size="21.6" text-anchor="middle" fill="#000" >7e-09</text>
<line x1="210.24" y1="710.40" x2="210.24" y2="694.90" stroke="#333333" stroke-width="1.1" />
<line x1="210.24" y1="694.90" x2="312.64" y2="694.90" stroke="#333333" stroke-width="1.1" />
<line x1="312.64" y1="694.90" x2="312.64" y2="710.40" stroke="#333333" stroke-width="1.1" />
<text x="261.44" y="687.80" font-size="21.6" text-anchor="middle" fill="#000" >0.32</text>
<rect x="148.80" y="603.60" width="327.70" height="655.90" fill="none" stroke="#5e5e5e" stroke-width="1.1" />
<rect x="148.80" y="560.70" width="327.70" height="42.90" fill="#d9d9d9" stroke="#5e5e5e" stroke-width="1.1" />
<line x1="148.80" y1="603.60" x2="476.50" y2="603.60" stroke="#262626" stroke-width="1.6" />
<text x="312.65" y="592.50" font-size="28" text-anchor="middle" fill="#1a1a1a" >Pre</text>
<line x1="210.24" y1="1259.50" x2="210.24" y2="1264.80" stroke="#333333" stroke-width="1.1" />
<text x="210.24" y="1289.30" font-size="27.7" text-anchor="middle" fill="#000" >Plasma</text>
<line x1="312.64" y1="1259.50" x2="312.64" y2="1264.80" stroke="#333333" stroke-width="1.1" />
<text x="312.64" y="1289.30" font-size="27.7" text-anchor="middle" fill="#000" >FT</text>
<line x1="415.04" y1="1259.50" x2="415.04" y2="1264.80" stroke="#333333" stroke-width="1.1" />
<text x="415.04" y="1289.30" font-size="27.7" text-anchor="middle" fill="#000" >Bead_EVs</text>
<rect x="488.30" y="603.60" width="327.70" height="655.90" fill="#fff" stroke="none" stroke-width="1" />
<line x1="488.30" y1="763.42" x2="816.00" y2="763.42" stroke="#ebebeb" stroke-width="1.1" />
<line x1="488.30" y1="985.46" x2="816.00" y2="985.46" stroke="#ebebeb" stroke-width="1.1" />
<line x1="488.30" y1="1207.50" x2="816.00" y2="1207.50" stroke="#ebebeb" stroke-width="1.1" />
<line x1="488.30" y1="652.40" x2="816.00" y2="652.40" stroke="#ebebeb" stroke-width="1.4" />
<line x1="488.30" y1="874.44" x2="816.00" y2="874.44" stroke="#ebebeb" stroke-width="1.4" />
<line x1="488.30" y1="1096.48" x2="816.00" y2="1096.48" stroke="#ebebeb" stroke-width="1.4" />
<line x1="549.74" y1="603.60" x2="549.74" y2="1259.50" stroke="#ebebeb" stroke-width="1.4" />
<line x1="652.14" y1="603.60" x2="652.14" y2="1259.50" stroke="#ebebeb" stroke-width="1.4" />
<line x1="754.54" y1="603.60" x2="754.54" y2="1259.50" stroke="#ebebeb" stroke-width="1.4" />
<line x1="549.74" y1="720.20" x2="549.74" y2="756.10" stroke="#E69F00" stroke-width="1.5" />
<line x1="549.74" y1="793.30" x2="549.74" y2="832.50" stroke="#E69F00" stroke-width="1.5" />
<rect x="511.34" y="756.10" width="76.80" height="37.20" fill="#fff" stroke="#E69F00" stroke-width="1.5" />
<line x1="511.34" y1="780.20" x2="588.14" y2="780.20" stroke="#E69F00" stroke-width="3.2" />
<line x1="652.14" y1="724.80" x2="652.14" y2="761.40" stroke="#333333" stroke-width="1.5" />
<line x1="652.14" y1="799.30" x2="652.14" y2="808.00" stroke="#333333" stroke-width="1.5" />
<rect x="613.74" y="761.40" width="76.80" height="37.90" fill="#fff" stroke="#333333" stroke-width="1.5" />
<line x1="613.74" y1="773.80" x2="690.54" y2="773.80" stroke="#333333" stroke-width="3.2" />
<line x1="754.54" y1="988.80" x2="754.54" y2="1040.50" stroke="#6A3D9A" stroke-width="1.5" />
<line x1="754.54" y1="1133.10" x2="754.54" y2="1145.10" stroke="#6A3D9A" stroke-width="1.5" />
<rect x="716.14" y="1040.50" width="76.80" height="92.60" fill="#fff" stroke="#6A3D9A" stroke-width="1.5" />
<line x1="716.14" y1="1101.90" x2="792.94" y2="1101.90" stroke="#6A3D9A" stroke-width="3.2" />
<polyline points="549.74,720.20 652.14,724.80 754.54,1008.90" fill="none" stroke="#b8b8b8" stroke-width="1.1"/>
<polyline points="549.74,740.00 652.14,743.50 754.54,988.80" fill="none" stroke="#b8b8b8" stroke-width="1.1"/>
<polyline points="549.74,756.10 652.14,760.90 754.54,1101.90" fill="none" stroke="#b8b8b8" stroke-width="1.1"/>
<polyline points="549.74,769.10 652.14,762.90 754.54,1040.70" fill="none" stroke="#b8b8b8" stroke-width="1.1"/>
<polyline points="549.74,779.90 652.14,780.60 754.54,1127.00" fill="none" stroke="#b8b8b8" stroke-width="1.1"/>
<polyline points="549.74,780.50 652.14,773.50 754.54,1090.70" fill="none" stroke="#b8b8b8" stroke-width="1.1"/>
<polyline points="549.74,793.80 652.14,800.10 754.54,1133.10" fill="none" stroke="#b8b8b8" stroke-width="1.1"/>
<polyline points="549.74,794.90 652.14,808.00 754.54,1145.10" fill="none" stroke="#b8b8b8" stroke-width="1.1"/>
<polyline points="549.74,832.50 652.14,799.30 754.54,1133.50" fill="none" stroke="#b8b8b8" stroke-width="1.1"/>
<circle cx="549.74" cy="720.20" r="3.6" fill="none" stroke="#000" stroke-width="1.0" />
<circle cx="549.74" cy="740.00" r="3.6" fill="none" stroke="#000" stroke-width="1.0" />
<circle cx="549.74" cy="756.10" r="3.6" fill="none" stroke="#000" stroke-width="1.0" />
<circle cx="549.74" cy="769.10" r="3.6" fill="none" stroke="#000" stroke-width="1.0" />
<circle cx="549.74" cy="779.90" r="3.6" fill="none" stroke="#000" stroke-width="1.0" />
<circle cx="549.74" cy="780.50" r="3.6" fill="none" stroke="#000" stroke-width="1.0" />
<circle cx="549.74" cy="793.80" r="3.6" fill="none" stroke="#000" stroke-width="1.0" />
<circle cx="549.74" cy="794.90" r="3.6" fill="none" stroke="#000" stroke-width="1.0" />
<circle cx="549.74" cy="832.50" r="3.6" fill="none" stroke="#000" stroke-width="1.0" />
<circle cx="652.14" cy="724.80" r="3.6" fill="none" stroke="#000" stroke-width="1.0" />
<circle cx="652.14" cy="743.50" r="3.6" fill="none" stroke="#000" stroke-width="1.0" />
<circle cx="652.14" cy="760.90" r="3.6" fill="none" stroke="#000" stroke-width="1.0" />
<circle cx="652.14" cy="762.90" r="3.6" fill="none" stroke="#000" stroke-width="1.0" />
<circle cx="652.14" cy="780.60" r="3.6" fill="none" stroke="#000" stroke-width="1.0" />
<circle cx="652.14" cy="773.50" r="3.6" fill="none" stroke="#000" stroke-width="1.0" />
<circle cx="652.14" cy="800.10" r="3.6" fill="none" stroke="#000" stroke-width="1.0" />
<circle cx="652.14" cy="808.00" r="3.6" fill="none" stroke="#000" stroke-width="1.0" />
<circle cx="652.14" cy="799.30" r="3.6" fill="none" stroke="#000" stroke-width="1.0" />
<circle cx="754.54" cy="1008.90" r="3.6" fill="none" stroke="#000" stroke-width="1.0" />
<circle cx="754.54" cy="988.80" r="3.6" fill="none" stroke="#000" stroke-width="1.0" />
<circle cx="754.54" cy="1101.90" r="3.6" fill="none" stroke="#000" stroke-width="1.0" />
<circle cx="754.54" cy="1040.70" r="3.6" fill="none" stroke="#000" stroke-width="1.0" />
<circle cx="754.54" cy="1127.00" r="3.6" fill="none" stroke="#000" stroke-width="1.0" />
<circle cx="754.54" cy="1090.70" r="3.6" fill="none" stroke="#000" stroke-width="1.0" />
<circle cx="754.54" cy="1133.10" r="3.6" fill="none" stroke="#000" stroke-width="1.0" />
<circle cx="754.54" cy="1145.10" r="3.6" fill="none" stroke="#000" stroke-width="1.0" />
<circle cx="754.54" cy="1133.50" r="3.6" fill="none" stroke="#000" stroke-width="1.0" />
<line x1="488.30" y1="1251.68" x2="494.10" y2="1251.68" stroke="#000" stroke-width="1.5" />
<line x1="488.30" y1="1240.92" x2="499.70" y2="1240.92" stroke="#000" stroke-width="1.5" />
<line x1="488.30" y1="1232.13" x2="494.10" y2="1232.13" stroke="#000" stroke-width="1.5" />
<line x1="488.30" y1="1224.70" x2="494.10" y2="1224.70" stroke="#000" stroke-width="1.5" />
<line x1="488.30" y1="1218.26" x2="494.10" y2="1218.26" stroke="#000" stroke-width="1.5" />
<line x1="488.30" y1="1212.58" x2="494.10" y2="1212.58" stroke="#000" stroke-width="1.5" />
<line x1="488.30" y1="1207.50" x2="505.00" y2="1207.50" stroke="#000" stroke-width="1.5" />
<line x1="488.30" y1="1174.08" x2="494.10" y2="1174.08" stroke="#000" stroke-width="1.5" />
<line x1="488.30" y1="1154.53" x2="494.10" y2="1154.53" stroke="#000" stroke-width="1.5" />
<line x1="488.30" y1="1140.66" x2="494.10" y2="1140.66" stroke="#000" stroke-width="1.5" />
<line x1="488.30" y1="1129.90" x2="499.70" y2="1129.90" stroke="#000" stroke-width="1.5" />
<line x1="488.30" y1="1121.11" x2="494.10" y2="1121.11" stroke="#000" stroke-width="1.5" />
<line x1="488.30" y1="1113.68" x2="494.10" y2="1113.68" stroke="#000" stroke-width="1.5" />
<line x1="488.30" y1="1107.24" x2="494.10" y2="1107.24" stroke="#000" stroke-width="1.5" />
<line x1="488.30" y1="1101.56" x2="494.10" y2="1101.56" stroke="#000" stroke-width="1.5" />
<line x1="488.30" y1="1096.48" x2="505.00" y2="1096.48" stroke="#000" stroke-width="1.5" />
<line x1="488.30" y1="1063.06" x2="494.10" y2="1063.06" stroke="#000" stroke-width="1.5" />
<line x1="488.30" y1="1043.51" x2="494.10" y2="1043.51" stroke="#000" stroke-width="1.5" />
<line x1="488.30" y1="1029.64" x2="494.10" y2="1029.64" stroke="#000" stroke-width="1.5" />
<line x1="488.30" y1="1018.88" x2="499.70" y2="1018.88" stroke="#000" stroke-width="1.5" />
<line x1="488.30" y1="1010.09" x2="494.10" y2="1010.09" stroke="#000" stroke-width="1.5" />
<line x1="488.30" y1="1002.66" x2="494.10" y2="1002.66" stroke="#000" stroke-width="1.5" />
<line x1="488.30" y1="996.22" x2="494.10" y2="996.22" stroke="#000" stroke-width="1.5" />
<line x1="488.30" y1="990.54" x2="494.10" y2="990.54" stroke="#000" stroke-width="1.5" />
<line x1="488.30" y1="985.46" x2="505.00" y2="985.46" stroke="#000" stroke-width="1.5" />
<line x1="488.30" y1="952.04" x2="494.10" y2="952.04" stroke="#000" stroke-width="1.5" />
<line x1="488.30" y1="932.49" x2="494.10" y2="932.49" stroke="#000" stroke-width="1.5" />
<line x1="488.30" y1="918.62" x2="494.10" y2="918.62" stroke="#000" stroke-width="1.5" />
<line x1="488.30" y1="907.86" x2="499.70" y2="907.86" stroke="#000" stroke-width="1.5" />
<line x1="488.30" y1="899.07" x2="494.10" y2="899.07" stroke="#000" stroke-width="1.5" />
<line x1="488.30" y1="891.64" x2="494.10" y2="891.64" stroke="#000" stroke-width="1.5" />
<line x1="488.30" y1="885.20" x2="494.10" y2="885.20" stroke="#000" stroke-width="1.5" />
<line x1="488.30" y1="879.52" x2="494.10" y2="879.52" stroke="#000" stroke-width="1.5" />
<line x1="488.30" y1="874.44" x2="505.00" y2="874.44" stroke="#000" stroke-width="1.5" />
<line x1="488.30" y1="841.02" x2="494.10" y2="841.02" stroke="#000" stroke-width="1.5" />
<line x1="488.30" y1="821.47" x2="494.10" y2="821.47" stroke="#000" stroke-width="1.5" />
<line x1="488.30" y1="807.60" x2="494.10" y2="807.60" stroke="#000" stroke-width="1.5" />
<line x1="488.30" y1="796.84" x2="499.70" y2="796.84" stroke="#000" stroke-width="1.5" />
<line x1="488.30" y1="788.05" x2="494.10" y2="788.05" stroke="#000" stroke-width="1.5" />
<line x1="488.30" y1="780.62" x2="494.10" y2="780.62" stroke="#000" stroke-width="1.5" />
<line x1="488.30" y1="774.18" x2="494.10" y2="774.18" stroke="#000" stroke-width="1.5" />
<line x1="488.30" y1="768.50" x2="494.10" y2="768.50" stroke="#000" stroke-width="1.5" />
<line x1="488.30" y1="763.42" x2="505.00" y2="763.42" stroke="#000" stroke-width="1.5" />
<line x1="488.30" y1="730.00" x2="494.10" y2="730.00" stroke="#000" stroke-width="1.5" />
<line x1="488.30" y1="710.45" x2="494.10" y2="710.45" stroke="#000" stroke-width="1.5" />
<line x1="488.30" y1="696.58" x2="494.10" y2="696.58" stroke="#000" stroke-width="1.5" />
<line x1="488.30" y1="685.82" x2="499.70" y2="685.82" stroke="#000" stroke-width="1.5" />
<line x1="488.30" y1="677.03" x2="494.10" y2="677.03" stroke="#000" stroke-width="1.5" />
<line x1="488.30" y1="669.60" x2="494.10" y2="669.60" stroke="#000" stroke-width="1.5" />
<line x1="488.30" y1="663.16" x2="494.10" y2="663.16" stroke="#000" stroke-width="1.5" />
<line x1="488.30" y1="657.48" x2="494.10" y2="657.48" stroke="#000" stroke-width="1.5" />
<line x1="488.30" y1="652.40" x2="505.00" y2="652.40" stroke="#000" stroke-width="1.5" />
<line x1="488.30" y1="618.98" x2="494.10" y2="618.98" stroke="#000" stroke-width="1.5" />
<line x1="549.74" y1="648.60" x2="549.74" y2="633.40" stroke="#333333" stroke-width="1.1" />
<line x1="549.74" y1="633.40" x2="754.54" y2="633.40" stroke="#333333" stroke-width="1.1" />
<line x1="754.54" y1="633.40" x2="754.54" y2="648.60" stroke="#333333" stroke-width="1.1" />
<text x="652.14" y="626.90" font-size="21.6" text-anchor="middle" fill="#000" >2.2e-07</text>
<line x1="549.74" y1="710.40" x2="549.74" y2="694.90" stroke="#333333" stroke-width="1.1" />
<line x1="549.74" y1="694.90" x2="652.14" y2="694.90" stroke="#333333" stroke-width="1.1" />
<line x1="652.14" y1="694.90" x2="652.14" y2="710.40" stroke="#333333" stroke-width="1.1" />
<text x="600.94" y="687.80" font-size="21.6" text-anchor="middle" fill="#000" >0.8</text>
<rect x="488.30" y="603.60" width="327.70" height="655.90" fill="none" stroke="#5e5e5e" stroke-width="1.1" />
<rect x="488.30" y="560.70" width="327.70" height="42.90" fill="#d9d9d9" stroke="#5e5e5e" stroke-width="1.1" />
<line x1="488.30" y1="603.60" x2="816.00" y2="603.60" stroke="#262626" stroke-width="1.6" />
<text x="652.15" y="592.50" font-size="28" text-anchor="middle" fill="#1a1a1a" >Post</text>
<line x1="549.74" y1="1259.50" x2="549.74" y2="1264.80" stroke="#333333" stroke-width="1.1" />
<text x="549.74" y="1289.30" font-size="27.7" text-anchor="middle" fill="#000" >Plasma</text>
<line x1="652.14" y1="1259.50" x2="652.14" y2="1264.80" stroke="#333333" stroke-width="1.1" />
<text x="652.14" y="1289.30" font-size="27.7" text-anchor="middle" fill="#000" >FT</text>
<line x1="754.54" y1="1259.50" x2="754.54" y2="1264.80" stroke="#333333" stroke-width="1.1" />
<text x="754.54" y="1289.30" font-size="27.7" text-anchor="middle" fill="#000" >Bead_EVs</text>
<rect x="827.60" y="603.60" width="327.70" height="655.90" fill="#fff" stroke="none" stroke-width="1" />
<line x1="827.60" y1="763.42" x2="1155.30" y2="763.42" stroke="#ebebeb" stroke-width="1.1" />
<line x1="827.60" y1="985.46" x2="1155.30" y2="985.46" stroke="#ebebeb" stroke-width="1.1" />
<line x1="827.60" y1="1207.50" x2="1155.30" y2="1207.50" stroke="#ebebeb" stroke-width="1.1" />
<line x1="827.60" y1="652.40" x2="1155.30" y2="652.40" stroke="#ebebeb" stroke-width="1.4" />
<line x1="827.60" y1="874.44" x2="1155.30" y2="874.44" stroke="#ebebeb" stroke-width="1.4" />
<line x1="827.60" y1="1096.48" x2="1155.30" y2="1096.48" stroke="#ebebeb" stroke-width="1.4" />
<line x1="889.04" y1="603.60" x2="889.04" y2="1259.50" stroke="#ebebeb" stroke-width="1.4" />
<line x1="991.44" y1="603.60" x2="991.44" y2="1259.50" stroke="#ebebeb" stroke-width="1.4" />
<line x1="1093.84" y1="603.60" x2="1093.84" y2="1259.50" stroke="#ebebeb" stroke-width="1.4" />
<line x1="889.04" y1="819.00" x2="889.04" y2="822.70" stroke="#E69F00" stroke-width="1.5" />
<line x1="889.04" y1="839.30" x2="889.04" y2="841.50" stroke="#E69F00" stroke-width="1.5" />
<rect x="850.64" y="822.70" width="76.80" height="16.60" fill="#fff" stroke="#E69F00" stroke-width="1.5" />
<line x1="850.64" y1="825.00" x2="927.44" y2="825.00" stroke="#E69F00" stroke-width="3.2" />
<line x1="991.44" y1="801.60" x2="991.44" y2="814.70" stroke="#333333" stroke-width="1.5" />
<line x1="991.44" y1="835.50" x2="991.44" y2="840.00" stroke="#333333" stroke-width="1.5" />
<rect x="953.04" y="814.70" width="76.80" height="20.80" fill="#fff" stroke="#333333" stroke-width="1.5" />
<line x1="953.04" y1="828.00" x2="1029.84" y2="828.00" stroke="#333333" stroke-width="3.2" />
<line x1="1093.84" y1="1115.90" x2="1093.84" y2="1147.10" stroke="#6A3D9A" stroke-width="1.5" />
<line x1="1093.84" y1="1192.10" x2="1093.84" y2="1229.80" stroke="#6A3D9A" stroke-width="1.5" />
<rect x="1055.44" y="1147.10" width="76.80" height="45.00" fill="#fff" stroke="#6A3D9A" stroke-width="1.5" />
<line x1="1055.44" y1="1172.80" x2="1132.24" y2="1172.80" stroke="#6A3D9A" stroke-width="3.2" />
<polyline points="889.04,787.80 991.44,801.60 1093.84,1115.90" fill="none" stroke="#b8b8b8" stroke-width="1.1"/>
<polyline points="889.04,819.00 991.44,822.70 1093.84,1172.40" fill="none" stroke="#b8b8b8" stroke-width="1.1"/>
<polyline points="889.04,821.20 991.44,827.20 1093.84,1135.60" fill="none" stroke="#b8b8b8" stroke-width="1.1"/>
<polyline points="889.04,823.50 991.44,829.50 1093.84,1147.10" fill="none" stroke="#b8b8b8" stroke-width="1.1"/>
<polyline points="889.04,825.70 991.44,809.50 1093.84,1151.80" fill="none" stroke="#b8b8b8" stroke-width="1.1"/>
<polyline points="889.04,834.00 991.44,835.50 1093.84,1176.50" fill="none" stroke="#b8b8b8" stroke-width="1.1"/>
<polyline points="889.04,837.00 991.44,837.80 1093.84,1192.20" fill="none" stroke="#b8b8b8" stroke-width="1.1"/>
<polyline points="889.04,839.30 991.44,840.00 1093.84,1211.70" fill="none" stroke="#b8b8b8" stroke-width="1.1"/>
<polyline points="889.04,841.50 991.44,814.90 1093.84,1229.80" fill="none" stroke="#b8b8b8" stroke-width="1.1"/>
<circle cx="889.04" cy="787.80" r="3.6" fill="none" stroke="#000" stroke-width="1.0" />
<circle cx="889.04" cy="819.00" r="3.6" fill="none" stroke="#000" stroke-width="1.0" />
<circle cx="889.04" cy="821.20" r="3.6" fill="none" stroke="#000" stroke-width="1.0" />
<circle cx="889.04" cy="823.50" r="3.6" fill="none" stroke="#000" stroke-width="1.0" />
<circle cx="889.04" cy="825.70" r="3.6" fill="none" stroke="#000" stroke-width="1.0" />
<circle cx="889.04" cy="834.00" r="3.6" fill="none" stroke="#000" stroke-width="1.0" />
<circle cx="889.04" cy="837.00" r="3.6" fill="none" stroke="#000" stroke-width="1.0" />
<circle cx="889.04" cy="839.30" r="3.6" fill="none" stroke="#000" stroke-width="1.0" />
<circle cx="889.04" cy="841.50" r="3.6" fill="none" stroke="#000" stroke-width="1.0" />
<circle cx="991.44" cy="801.60" r="3.6" fill="none" stroke="#000" stroke-width="1.0" />
<circle cx="991.44" cy="822.70" r="3.6" fill="none" stroke="#000" stroke-width="1.0" />
<circle cx="991.44" cy="827.20" r="3.6" fill="none" stroke="#000" stroke-width="1.0" />
<circle cx="991.44" cy="829.50" r="3.6" fill="none" stroke="#000" stroke-width="1.0" />
<circle cx="991.44" cy="809.50" r="3.6" fill="none" stroke="#000" stroke-width="1.0" />
<circle cx="991.44" cy="835.50" r="3.6" fill="none" stroke="#000" stroke-width="1.0" />
<circle cx="991.44" cy="837.80" r="3.6" fill="none" stroke="#000" stroke-width="1.0" />
<circle cx="991.44" cy="840.00" r="3.6" fill="none" stroke="#000" stroke-width="1.0" />
<circle cx="991.44" cy="814.90" r="3.6" fill="none" stroke="#000" stroke-width="1.0" />
<circle cx="1093.84" cy="1115.90" r="3.6" fill="none" stroke="#000" stroke-width="1.0" />
<circle cx="1093.84" cy="1172.40" r="3.6" fill="none" stroke="#000" stroke-width="1.0" />
<circle cx="1093.84" cy="1135.60" r="3.6" fill="none" stroke="#000" stroke-width="1.0" />
<circle cx="1093.84" cy="1147.10" r="3.6" fill="none" stroke="#000" stroke-width="1.0" />
<circle cx="1093.84" cy="1151.80" r="3.6" fill="none" stroke="#000" stroke-width="1.0" />
<circle cx="1093.84" cy="1176.50" r="3.6" fill="none" stroke="#000" stroke-width="1.0" />
<circle cx="1093.84" cy="1192.20" r="3.6" fill="none" stroke="#000" stroke-width="1.0" />
<circle cx="1093.84" cy="1211.70" r="3.6" fill="none" stroke="#000" stroke-width="1.0" />
<circle cx="1093.84" cy="1229.80" r="3.6" fill="none" stroke="#000" stroke-width="1.0" />
<line x1="827.60" y1="1251.68" x2="833.40" y2="1251.68" stroke="#000" stroke-width="1.5" />
<line x1="827.60" y1="1240.92" x2="839.00" y2="1240.92" stroke="#000" stroke-width="1.5" />
<line x1="827.60" y1="1232.13" x2="833.40" y2="1232.13" stroke="#000" stroke-width="1.5" />
<line x1="827.60" y1="1224.70" x2="833.40" y2="1224.70" stroke="#000" stroke-width="1.5" />
<line x1="827.60" y1="1218.26" x2="833.40" y2="1218.26" stroke="#000" stroke-width="1.5" />
<line x1="827.60" y1="1212.58" x2="833.40" y2="1212.58" stroke="#000" stroke-width="1.5" />
<line x1="827.60" y1="1207.50" x2="844.30" y2="1207.50" stroke="#000" stroke-width="1.5" />
<line x1="827.60" y1="1174.08" x2="833.40" y2="1174.08" stroke="#000" stroke-width="1.5" />
<line x1="827.60" y1="1154.53" x2="833.40" y2="1154.53" stroke="#000" stroke-width="1.5" />
<line x1="827.60" y1="1140.66" x2="833.40" y2="1140.66" stroke="#000" stroke-width="1.5" />
<line x1="827.60" y1="1129.90" x2="839.00" y2="1129.90" stroke="#000" stroke-width="1.5" />
<line x1="827.60" y1="1121.11" x2="833.40" y2="1121.11" stroke="#000" stroke-width="1.5" />
<line x1="827.60" y1="1113.68" x2="833.40" y2="1113.68" stroke="#000" stroke-width="1.5" />
<line x1="827.60" y1="1107.24" x2="833.40" y2="1107.24" stroke="#000" stroke-width="1.5" />
<line x1="827.60" y1="1101.56" x2="833.40" y2="1101.56" stroke="#000" stroke-width="1.5" />
<line x1="827.60" y1="1096.48" x2="844.30" y2="1096.48" stroke="#000" stroke-width="1.5" />
<line x1="827.60" y1="1063.06" x2="833.40" y2="1063.06" stroke="#000" stroke-width="1.5" />
<line x1="827.60" y1="1043.51" x2="833.40" y2="1043.51" stroke="#000" stroke-width="1.5" />
<line x1="827.60" y1="1029.64" x2="833.40" y2="1029.64" stroke="#000" stroke-width="1.5" />
<line x1="827.60" y1="1018.88" x2="839.00" y2="1018.88" stroke="#000" stroke-width="1.5" />
<line x1="827.60" y1="1010.09" x2="833.40" y2="1010.09" stroke="#000" stroke-width="1.5" />
<line x1="827.60" y1="1002.66" x2="833.40" y2="1002.66" stroke="#000" stroke-width="1.5" />
<line x1="827.60" y1="996.22" x2="833.40" y2="996.22" stroke="#000" stroke-width="1.5" />
<line x1="827.60" y1="990.54" x2="833.40" y2="990.54" stroke="#000" stroke-width="1.5" />
<line x1="827.60" y1="985.46" x2="844.30" y2="985.46" stroke="#000" stroke-width="1.5" />
<line x1="827.60" y1="952.04" x2="833.40" y2="952.04" stroke="#000" stroke-width="1.5" />
<line x1="827.60" y1="932.49" x2="833.40" y2="932.49" stroke="#000" stroke-width="1.5" />
<line x1="827.60" y1="918.62" x2="833.40" y2="918.62" stroke="#000" stroke-width="1.5" />
<line x1="827.60" y1="907.86" x2="839.00" y2="907.86" stroke="#000" stroke-width="1.5" />
<line x1="827.60" y1="899.07" x2="833.40" y2="899.07" stroke="#000" stroke-width="1.5" />
<line x1="827.60" y1="891.64" x2="833.40" y2="891.64" stroke="#000" stroke-width="1.5" />
<line x1="827.60" y1="885.20" x2="833.40" y2="885.20" stroke="#000" stroke-width="1.5" />
<line x1="827.60" y1="879.52" x2="833.40" y2="879.52" stroke="#000" stroke-width="1.5" />
<line x1="827.60" y1="874.44" x2="844.30" y2="874.44" stroke="#000" stroke-width="1.5" />
<line x1="827.60" y1="841.02" x2="833.40" y2="841.02" stroke="#000" stroke-width="1.5" />
<line x1="827.60" y1="821.47" x2="833.40" y2="821.47" stroke="#000" stroke-width="1.5" />
<line x1="827.60" y1="807.60" x2="833.40" y2="807.60" stroke="#000" stroke-width="1.5" />
<line x1="827.60" y1="796.84" x2="839.00" y2="796.84" stroke="#000" stroke-width="1.5" />
<line x1="827.60" y1="788.05" x2="833.40" y2="788.05" stroke="#000" stroke-width="1.5" />
<line x1="827.60" y1="780.62" x2="833.40" y2="780.62" stroke="#000" stroke-width="1.5" />
<line x1="827.60" y1="774.18" x2="833.40" y2="774.18" stroke="#000" stroke-width="1.5" />
<line x1="827.60" y1="768.50" x2="833.40" y2="768.50" stroke="#000" stroke-width="1.5" />
<line x1="827.60" y1="763.42" x2="844.30" y2="763.42" stroke="#000" stroke-width="1.5" />
<line x1="827.60" y1="730.00" x2="833.40" y2="730.00" stroke="#000" stroke-width="1.5" />
<line x1="827.60" y1="710.45" x2="833.40" y2="710.45" stroke="#000" stroke-width="1.5" />
<line x1="827.60" y1="696.58" x2="833.40" y2="696.58" stroke="#000" stroke-width="1.5" />
<line x1="827.60" y1="685.82" x2="839.00" y2="685.82" stroke="#000" stroke-width="1.5" />
<line x1="827.60" y1="677.03" x2="833.40" y2="677.03" stroke="#000" stroke-width="1.5" />
<line x1="827.60" y1="669.60" x2="833.40" y2="669.60" stroke="#000" stroke-width="1.5" />
<line x1="827.60" y1="663.16" x2="833.40" y2="663.16" stroke="#000" stroke-width="1.5" />
<line x1="827.60" y1="657.48" x2="833.40" y2="657.48" stroke="#000" stroke-width="1.5" />
<line x1="827.60" y1="652.40" x2="844.30" y2="652.40" stroke="#000" stroke-width="1.5" />
<line x1="827.60" y1="618.98" x2="833.40" y2="618.98" stroke="#000" stroke-width="1.5" />
<line x1="889.04" y1="648.60" x2="889.04" y2="633.40" stroke="#333333" stroke-width="1.1" />
<line x1="889.04" y1="633.40" x2="1093.84" y2="633.40" stroke="#333333" stroke-width="1.1" />
<line x1="1093.84" y1="633.40" x2="1093.84" y2="648.60" stroke="#333333" stroke-width="1.1" />
<text x="991.44" y="626.90" font-size="21.6" text-anchor="middle" fill="#000" >2.4e-09</text>
<line x1="889.04" y1="710.40" x2="889.04" y2="694.90" stroke="#333333" stroke-width="1.1" />
<line x1="889.04" y1="694.90" x2="991.44" y2="694.90" stroke="#333333" stroke-width="1.1" />
<line x1="991.44" y1="694.90" x2="991.44" y2="710.40" stroke="#333333" stroke-width="1.1" />
<text x="940.24" y="687.80" font-size="21.6" text-anchor="middle" fill="#000" >0.73</text>
<rect x="827.60" y="603.60" width="327.70" height="655.90" fill="none" stroke="#5e5e5e" stroke-width="1.1" />
<rect x="827.60" y="560.70" width="327.70" height="42.90" fill="#d9d9d9" stroke="#5e5e5e" stroke-width="1.1" />
<line x1="827.60" y1="603.60" x2="1155.30" y2="603.60" stroke="#262626" stroke-width="1.6" />
<text x="991.45" y="592.50" font-size="28" text-anchor="middle" fill="#1a1a1a" >+30'</text>
<line x1="889.04" y1="1259.50" x2="889.04" y2="1264.80" stroke="#333333" stroke-width="1.1" />
<text x="889.04" y="1289.30" font-size="27.7" text-anchor="middle" fill="#000" >Plasma</text>
<line x1="991.44" y1="1259.50" x2="991.44" y2="1264.80" stroke="#333333" stroke-width="1.1" />
<text x="991.44" y="1289.30" font-size="27.7" text-anchor="middle" fill="#000" >FT</text>
<line x1="1093.84" y1="1259.50" x2="1093.84" y2="1264.80" stroke="#333333" stroke-width="1.1" />
<text x="1093.84" y="1289.30" font-size="27.7" text-anchor="middle" fill="#000" >Bead_EVs</text>
<line x1="143.50" y1="652.40" x2="148.80" y2="652.40" stroke="#333333" stroke-width="1.1" />
<text x="138.30" y="662.20" font-size="27.5" text-anchor="end" fill="#000" >1,000.0</text>
<line x1="143.50" y1="874.44" x2="148.80" y2="874.44" stroke="#333333" stroke-width="1.1" />
<text x="138.30" y="884.24" font-size="27.5" text-anchor="end" fill="#000" >10.0</text>
<line x1="143.50" y1="1096.48" x2="148.80" y2="1096.48" stroke="#333333" stroke-width="1.1" />
<text x="138.30" y="1106.28" font-size="27.5" text-anchor="end" fill="#000" >0.1</text>
<text transform="translate(36.1,931.2) rotate(-90)" font-size="27.9" text-anchor="middle">DNA (ng) from 1 ml plasma</text>
<text x="1187.60" y="883.30" font-size="22.1" text-anchor="start" fill="#000" >Sample</text>
<line x1="1205.00" y1="899.20" x2="1205.00" y2="927.10" stroke="#E69F00" stroke-width="1.2" />
<rect x="1192.00" y="904.50" width="26.00" height="17.30" fill="#fff" stroke="#E69F00" stroke-width="1.2" />
<line x1="1192.00" y1="913.00" x2="1218.00" y2="913.00" stroke="#E69F00" stroke-width="1.2" />
<text x="1232.40" y="919.60" font-size="17.5" text-anchor="start" fill="#000" >Plasma</text>
<line x1="1205.00" y1="933.50" x2="1205.00" y2="961.40" stroke="#333333" stroke-width="1.2" />
<rect x="1192.00" y="938.80" width="26.00" height="17.30" fill="#fff" stroke="#333333" stroke-width="1.2" />
<line x1="1192.00" y1="947.30" x2="1218.00" y2="947.30" stroke="#333333" stroke-width="1.2" />
<text x="1232.40" y="953.90" font-size="17.5" text-anchor="start" fill="#000" >FT</text>
<line x1="1205.00" y1="967.80" x2="1205.00" y2="995.70" stroke="#6A3D9A" stroke-width="1.2" />
<rect x="1192.00" y="973.10" width="26.00" height="17.30" fill="#fff" stroke="#6A3D9A" stroke-width="1.2" />
<line x1="1192.00" y1="981.60" x2="1218.00" y2="981.60" stroke="#6A3D9A" stroke-width="1.2" />
<text x="1232.40" y="988.20" font-size="17.5" text-anchor="start" fill="#000" >Bead_EVs</text>
<text x="25.30" y="1337.00" font-size="31.8" text-anchor="start" fill="#1a1a1a" font-weight="bold" >(d)</text>
<rect x="113.10" y="1350.60" width="538.70" height="376.30" fill="#fff" stroke="none" stroke-width="1" />
<line x1="113.10" y1="1411.60" x2="651.80" y2="1411.60" stroke="#ebebeb" stroke-width="1.0" />
<line x1="113.10" y1="1509.80" x2="651.80" y2="1509.80" stroke="#ebebeb" stroke-width="1.0" />
<line x1="113.10" y1="1607.80" x2="651.80" y2="1607.80" stroke="#ebebeb" stroke-width="1.0" />
<line x1="113.10" y1="1701.00" x2="651.80" y2="1701.00" stroke="#ebebeb" stroke-width="1.0" />
<line x1="295.20" y1="1350.60" x2="295.20" y2="1726.90" stroke="#ebebeb" stroke-width="1.0" />
<line x1="520.40" y1="1350.60" x2="520.40" y2="1726.90" stroke="#ebebeb" stroke-width="1.0" />
<line x1="113.10" y1="1365.13" x2="651.80" y2="1365.13" stroke="#ebebeb" stroke-width="1.4" />
<line x1="113.10" y1="1458.60" x2="651.80" y2="1458.60" stroke="#ebebeb" stroke-width="1.4" />
<line x1="113.10" y1="1561.03" x2="651.80" y2="1561.03" stroke="#ebebeb" stroke-width="1.4" />
<line x1="113.10" y1="1654.50" x2="651.80" y2="1654.50" stroke="#ebebeb" stroke-width="1.4" />
<line x1="182.60" y1="1350.60" x2="182.60" y2="1726.90" stroke="#ebebeb" stroke-width="1.4" />
<line x1="407.80" y1="1350.60" x2="407.80" y2="1726.90" stroke="#ebebeb" stroke-width="1.4" />
<line x1="633.00" y1="1350.60" x2="633.00" y2="1726.90" stroke="#ebebeb" stroke-width="1.4" />
<line x1="137.20" y1="1640.40" x2="627.20" y2="1428.20" stroke="#000" stroke-width="4.2" stroke-linecap="butt"/>
<polygon points="521.40,1361.65 516.60,1369.96 526.20,1369.96" fill="#009E73"/>
<polygon points="344.90,1396.45 340.10,1404.76 349.70,1404.76" fill="#009E73"/>
<polygon points="334.00,1460.05 329.20,1468.36 338.80,1468.36" fill="#009E73"/>
<polygon points="309.10,1467.55 304.30,1475.86 313.90,1475.86" fill="#009E73"/>
<polygon points="627.70,1445.65 622.90,1453.96 632.50,1453.96" fill="#009E73"/>
<circle cx="396.60" cy="1497.30" r="3.6" fill="#009E73" stroke="none" stroke-width="1" />
<circle cx="420.00" cy="1519.20" r="3.6" fill="#009E73" stroke="none" stroke-width="1" />
<circle cx="587.00" cy="1544.00" r="3.6" fill="#009E73" stroke="none" stroke-width="1" />
<circle cx="309.10" cy="1571.40" r="3.6" fill="#009E73" stroke="none" stroke-width="1" />
<polygon points="368.30,1516.25 363.50,1524.56 373.10,1524.56" fill="#56B4E9"/>
<polygon points="296.20,1531.15 291.40,1539.46 301.00,1539.46" fill="#56B4E9"/>
<polygon points="137.20,1564.95 132.40,1573.26 142.00,1573.26" fill="#56B4E9"/>
<polygon points="173.00,1614.65 168.20,1622.96 177.80,1622.96" fill="#56B4E9"/>
<polygon points="213.20,1609.65 208.40,1617.96 218.00,1617.96" fill="#56B4E9"/>
<circle cx="253.50" cy="1539.10" r="3.6" fill="#56B4E9" stroke="none" stroke-width="1" />
<circle cx="304.70" cy="1566.90" r="3.6" fill="#56B4E9" stroke="none" stroke-width="1" />
<circle cx="328.00" cy="1599.70" r="3.6" fill="#56B4E9" stroke="none" stroke-width="1" />
<circle cx="245.50" cy="1609.60" r="3.6" fill="#56B4E9" stroke="none" stroke-width="1" />
<circle cx="245.50" cy="1595.20" r="3.6" fill="#999999" stroke="none" stroke-width="1" />
<circle cx="358.80" cy="1622.00" r="3.6" fill="#999999" stroke="none" stroke-width="1" />
<circle cx="149.10" cy="1653.90" r="3.6" fill="#999999" stroke="none" stroke-width="1" />
<circle cx="220.20" cy="1710.50" r="3.6" fill="#999999" stroke="none" stroke-width="1" />
<polygon points="196.30,1623.05 191.50,1631.36 201.10,1631.36" fill="#999999"/>
<polygon points="167.50,1634.05 162.70,1642.36 172.30,1642.36" fill="#999999"/>
<polygon points="389.60,1623.05 384.80,1631.36 394.40,1631.36" fill="#999999"/>
<polygon points="249.50,1664.35 244.70,1672.66 254.30,1672.66" fill="#999999"/>
<polygon points="148.10,1677.25 143.30,1685.56 152.90,1685.56" fill="#999999"/>
<line x1="113.00" y1="1350.90" x2="113.00" y2="1727.50" stroke="#333" stroke-width="1.0" />
<line x1="652.00" y1="1350.90" x2="652.00" y2="1727.50" stroke="#333" stroke-width="1.0" />
<line x1="113.00" y1="1350.90" x2="652.00" y2="1350.90" stroke="#333" stroke-width="1.0" />
<line x1="112.50" y1="1727.50" x2="652.50" y2="1727.50" stroke="#333" stroke-width="1.0" />
<text x="137.40" y="1391.30" font-size="21.3" text-anchor="start" fill="#000" ><tspan font-style="italic">R</tspan> = 0.65, <tspan font-style="italic">p</tspan> = 0.00024</text>
<line x1="107.40" y1="1365.13" x2="113.10" y2="1365.13" stroke="#333333" stroke-width="1.1" />
<text x="102.40" y="1372.33" font-size="20.2" text-anchor="end" fill="#1a1a1a" >300</text>
<line x1="107.40" y1="1458.60" x2="113.10" y2="1458.60" stroke="#333333" stroke-width="1.1" />
<text x="102.40" y="1465.80" font-size="20.2" text-anchor="end" fill="#1a1a1a" >100</text>
<line x1="107.40" y1="1561.03" x2="113.10" y2="1561.03" stroke="#333333" stroke-width="1.1" />
<text x="102.40" y="1568.23" font-size="20.2" text-anchor="end" fill="#1a1a1a" >30</text>
<line x1="107.40" y1="1654.50" x2="113.10" y2="1654.50" stroke="#333333" stroke-width="1.1" />
<text x="102.40" y="1661.70" font-size="20.2" text-anchor="end" fill="#1a1a1a" >10</text>
<line x1="182.60" y1="1726.90" x2="182.60" y2="1732.60" stroke="#333333" stroke-width="1.1" />
<text x="182.60" y="1752.20" font-size="19.8" text-anchor="middle" fill="#1a1a1a" >0.010</text>
<line x1="407.80" y1="1726.90" x2="407.80" y2="1732.60" stroke="#333333" stroke-width="1.1" />
<text x="407.80" y="1752.20" font-size="19.8" text-anchor="middle" fill="#1a1a1a" >0.100</text>
<line x1="633.00" y1="1726.90" x2="633.00" y2="1732.60" stroke="#333333" stroke-width="1.1" />
<text x="633.00" y="1752.20" font-size="19.8" text-anchor="middle" fill="#1a1a1a" >1.000</text>
<text transform="translate(60.6,1538.8) rotate(-90)" font-size="19.9" text-anchor="middle">DNA (ng/ml) from 1 ml plasma</text>
<text x="209.8" y="1769" font-size="10.5" textLength="345" lengthAdjust="spacingAndGlyphs">Bead EV DNA (ng/ml) from 1 ml plasma</text>
<text x="684.60" y="1417.60" font-size="22" text-anchor="start" fill="#000" >Exercise</text>
<circle cx="701.40" cy="1448.80" r="3.6" fill="#000" stroke="none" stroke-width="1" />
<text x="728.80" y="1455.10" font-size="17.8" text-anchor="start" fill="#000" >Cycling</text>
<polygon points="701.60,1477.75 696.80,1486.06 706.40,1486.06" fill="#000"/>
<text x="728.80" y="1489.00" font-size="17.8" text-anchor="start" fill="#000" >Running</text>
<text x="684.60" y="1562.20" font-size="21.9" text-anchor="start" fill="#000" >Timepoint</text>
<circle cx="701.40" cy="1592.70" r="3.6" fill="#999999" stroke="none" stroke-width="1" />
<text x="728.80" y="1599.00" font-size="17.8" text-anchor="start" fill="#000" >Pre</text>
<circle cx="701.40" cy="1627.15" r="3.6" fill="#009E73" stroke="none" stroke-width="1" />
<text x="728.80" y="1633.30" font-size="17.8" text-anchor="start" fill="#000" >Post</text>
<circle cx="701.40" cy="1661.60" r="3.6" fill="#56B4E9" stroke="none" stroke-width="1" />
<text x="728.80" y="1667.60" font-size="17.8" text-anchor="start" fill="#000" >+30'</text>
<text x="793.40" y="1343.60" font-size="32" text-anchor="start" fill="#1a1a1a" font-weight="bold" >(e)</text>
<rect x="941.50" y="1347.90" width="354.20" height="387.30" fill="#fff" stroke="none" stroke-width="1" />
<line x1="941.50" y1="1371.90" x2="1295.70" y2="1371.90" stroke="#ebebeb" stroke-width="1.0" />
<line x1="941.50" y1="1506.20" x2="1295.70" y2="1506.20" stroke="#ebebeb" stroke-width="1.0" />
<line x1="941.50" y1="1640.40" x2="1295.70" y2="1640.40" stroke="#ebebeb" stroke-width="1.0" />
<line x1="941.50" y1="1733.20" x2="1295.70" y2="1733.20" stroke="#ebebeb" stroke-width="1.0" />
<line x1="941.50" y1="1418.40" x2="1295.70" y2="1418.40" stroke="#ebebeb" stroke-width="1.4" />
<line x1="941.50" y1="1594.10" x2="1295.70" y2="1594.10" stroke="#ebebeb" stroke-width="1.4" />
<line x1="941.50" y1="1685.97" x2="1295.70" y2="1685.97" stroke="#ebebeb" stroke-width="1.4" />
<line x1="1007.60" y1="1347.90" x2="1007.60" y2="1735.20" stroke="#ebebeb" stroke-width="1.4" />
<line x1="1118.50" y1="1347.90" x2="1118.50" y2="1735.20" stroke="#ebebeb" stroke-width="1.4" />
<line x1="1229.20" y1="1347.90" x2="1229.20" y2="1735.20" stroke="#ebebeb" stroke-width="1.4" />
<line x1="1007.60" y1="1577.20" x2="1007.60" y2="1577.20" stroke="#000" stroke-width="1.3" />
<line x1="1007.60" y1="1592.20" x2="1007.60" y2="1602.90" stroke="#000" stroke-width="1.3" />
<rect x="966.05" y="1577.20" width="83.10" height="15.00" fill="#fff" stroke="#000" stroke-width="1.3" />
<line x1="966.05" y1="1579.40" x2="1049.15" y2="1579.40" stroke="#000" stroke-width="2.6" />
<line x1="1118.50" y1="1434.90" x2="1118.50" y2="1555.50" stroke="#000" stroke-width="1.3" />
<line x1="1118.50" y1="1643.30" x2="1118.50" y2="1681.10" stroke="#000" stroke-width="1.3" />
<rect x="1076.95" y="1555.50" width="83.10" height="87.80" fill="#fff" stroke="#000" stroke-width="1.3" />
<line x1="1076.95" y1="1561.70" x2="1160.05" y2="1561.70" stroke="#000" stroke-width="2.6" />
<line x1="1229.20" y1="1534.20" x2="1229.20" y2="1576.40" stroke="#000" stroke-width="1.3" />
<line x1="1229.20" y1="1643.70" x2="1229.20" y2="1692.20" stroke="#000" stroke-width="1.3" />
<rect x="1187.65" y="1576.40" width="83.10" height="67.30" fill="#fff" stroke="#000" stroke-width="1.3" />
<line x1="1187.65" y1="1619.80" x2="1270.75" y2="1619.80" stroke="#000" stroke-width="2.6" />
<polyline points="1002.80,1441.20 1113.40,1434.90 1226.60,1533.00" fill="none" stroke="#c4c4c4" stroke-width="1"/>
<polyline points="1005.00,1468.70 1116.00,1404.80 1224.00,1535.30" fill="none" stroke="#c4c4c4" stroke-width="1"/>
<polyline points="1017.50,1577.20 1110.80,1555.50 1221.40,1576.00" fill="none" stroke="#c4c4c4" stroke-width="1"/>
<polyline points="999.50,1577.20 1120.70,1562.10 1228.80,1626.00" fill="none" stroke="#c4c4c4" stroke-width="1"/>
<polyline points="997.30,1579.40 1128.10,1574.20 1238.70,1643.70" fill="none" stroke="#c4c4c4" stroke-width="1"/>
<polyline points="1007.90,1582.30 1125.90,1559.10 1231.70,1600.30" fill="none" stroke="#c4c4c4" stroke-width="1"/>
<polyline points="1009.80,1592.20 1123.00,1644.80 1236.50,1619.40" fill="none" stroke="#c4c4c4" stroke-width="1"/>
<polyline points="1015.30,1593.70 1108.60,1681.50 1219.60,1683.70" fill="none" stroke="#c4c4c4" stroke-width="1"/>
<polyline points="1012.30,1604.00 1118.50,1643.30 1233.60,1692.20" fill="none" stroke="#c4c4c4" stroke-width="1"/>
<circle cx="1002.80" cy="1441.20" r="4.6" fill="none" stroke="#555" stroke-width="1.0" stroke-opacity="0.85"/>
<circle cx="1005.00" cy="1468.70" r="4.6" fill="none" stroke="#555" stroke-width="1.0" stroke-opacity="0.85"/>
<circle cx="999.50" cy="1577.20" r="4.6" fill="none" stroke="#555" stroke-width="1.0" stroke-opacity="0.85"/>
<circle cx="997.30" cy="1579.40" r="4.6" fill="none" stroke="#555" stroke-width="1.0" stroke-opacity="0.85"/>
<circle cx="1017.50" cy="1577.20" r="4.6" fill="none" stroke="#555" stroke-width="1.0" stroke-opacity="0.85"/>
<circle cx="1007.90" cy="1582.30" r="4.6" fill="none" stroke="#555" stroke-width="1.0" stroke-opacity="0.85"/>
<circle cx="1009.80" cy="1592.20" r="4.6" fill="none" stroke="#555" stroke-width="1.0" stroke-opacity="0.85"/>
<circle cx="1015.30" cy="1593.70" r="4.6" fill="none" stroke="#555" stroke-width="1.0" stroke-opacity="0.85"/>
<circle cx="1012.30" cy="1604.00" r="4.6" fill="none" stroke="#555" stroke-width="1.0" stroke-opacity="0.85"/>
<circle cx="1113.40" cy="1434.90" r="4.6" fill="none" stroke="#555" stroke-width="1.0" stroke-opacity="0.85"/>
<circle cx="1116.00" cy="1404.80" r="4.6" fill="none" stroke="#555" stroke-width="1.0" stroke-opacity="0.85"/>
<circle cx="1110.80" cy="1555.50" r="4.6" fill="none" stroke="#555" stroke-width="1.0" stroke-opacity="0.85"/>
<circle cx="1120.70" cy="1562.10" r="4.6" fill="none" stroke="#555" stroke-width="1.0" stroke-opacity="0.85"/>
<circle cx="1125.90" cy="1559.10" r="4.6" fill="none" stroke="#555" stroke-width="1.0" stroke-opacity="0.85"/>
<circle cx="1128.10" cy="1574.20" r="4.6" fill="none" stroke="#555" stroke-width="1.0" stroke-opacity="0.85"/>
<circle cx="1118.50" cy="1643.30" r="4.6" fill="none" stroke="#555" stroke-width="1.0" stroke-opacity="0.85"/>
<circle cx="1123.00" cy="1644.80" r="4.6" fill="none" stroke="#555" stroke-width="1.0" stroke-opacity="0.85"/>
<circle cx="1108.60" cy="1681.50" r="4.6" fill="none" stroke="#555" stroke-width="1.0" stroke-opacity="0.85"/>
<circle cx="1224.00" cy="1535.30" r="4.6" fill="none" stroke="#555" stroke-width="1.0" stroke-opacity="0.85"/>
<circle cx="1226.60" cy="1533.00" r="4.6" fill="none" stroke="#555" stroke-width="1.0" stroke-opacity="0.85"/>
<circle cx="1221.40" cy="1576.00" r="4.6" fill="none" stroke="#555" stroke-width="1.0" stroke-opacity="0.85"/>
<circle cx="1231.70" cy="1600.30" r="4.6" fill="none" stroke="#555" stroke-width="1.0" stroke-opacity="0.85"/>
<circle cx="1236.50" cy="1619.40" r="4.6" fill="none" stroke="#555" stroke-width="1.0" stroke-opacity="0.85"/>
<circle cx="1228.80" cy="1626.00" r="4.6" fill="none" stroke="#555" stroke-width="1.0" stroke-opacity="0.85"/>
<circle cx="1238.70" cy="1643.70" r="4.6" fill="none" stroke="#555" stroke-width="1.0" stroke-opacity="0.85"/>
<circle cx="1219.60" cy="1683.70" r="4.6" fill="none" stroke="#555" stroke-width="1.0" stroke-opacity="0.85"/>
<circle cx="1233.60" cy="1692.20" r="4.6" fill="none" stroke="#555" stroke-width="1.0" stroke-opacity="0.85"/>
<line x1="941.50" y1="1348.00" x2="941.50" y2="1735.50" stroke="#333" stroke-width="1.0" />
<line x1="1295.50" y1="1348.00" x2="1295.50" y2="1735.50" stroke="#333" stroke-width="1.0" />
<line x1="941.50" y1="1348.00" x2="1295.50" y2="1348.00" stroke="#333" stroke-width="1.0" />
<line x1="941.00" y1="1735.50" x2="1296.00" y2="1735.50" stroke="#333" stroke-width="1.0" />
<line x1="936.00" y1="1418.40" x2="941.50" y2="1418.40" stroke="#333333" stroke-width="1.1" />
<text x="930.50" y="1425.00" font-size="18.1" text-anchor="end" fill="#1a1a1a" >1.000</text>
<line x1="936.00" y1="1594.10" x2="941.50" y2="1594.10" stroke="#333333" stroke-width="1.1" />
<text x="930.50" y="1600.70" font-size="18.1" text-anchor="end" fill="#1a1a1a" >0.100</text>
<line x1="936.00" y1="1685.97" x2="941.50" y2="1685.97" stroke="#333333" stroke-width="1.1" />
<text x="930.50" y="1692.57" font-size="18.1" text-anchor="end" fill="#1a1a1a" >0.030</text>
<line x1="1007.60" y1="1735.20" x2="1007.60" y2="1740.60" stroke="#333333" stroke-width="1.1" />
<text x="1007.60" y="1758.90" font-size="18.8" text-anchor="middle" fill="#1a1a1a" >Pre</text>
<line x1="1118.50" y1="1735.20" x2="1118.50" y2="1740.60" stroke="#333333" stroke-width="1.1" />
<text x="1118.50" y="1758.90" font-size="18.8" text-anchor="middle" fill="#1a1a1a" >Post</text>
<line x1="1229.20" y1="1735.20" x2="1229.20" y2="1740.60" stroke="#333333" stroke-width="1.1" />
<text x="1229.20" y="1758.90" font-size="18.8" text-anchor="middle" fill="#1a1a1a" >+30'</text>
<text transform="translate(877.6,1541.2) rotate(-90)" font-size="22.8" text-anchor="middle">Percentage of EV DNA in plasma</text>
</svg></body></html>
